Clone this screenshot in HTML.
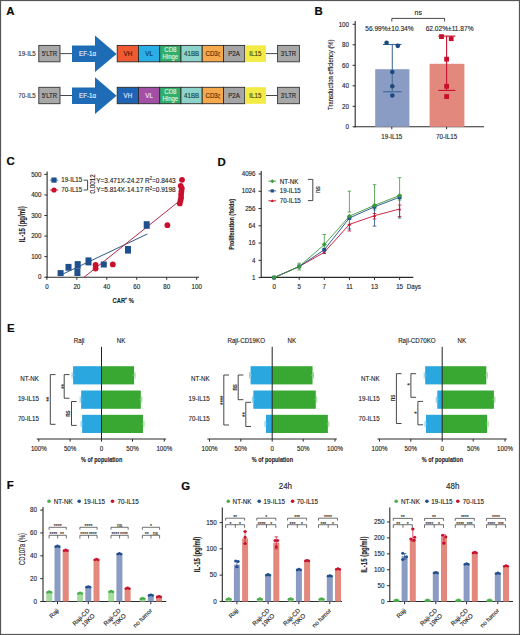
<!DOCTYPE html>
<html><head><meta charset="utf-8"><style>
html,body{margin:0;padding:0;background:#fff;}
body{width:520px;height:635px;overflow:hidden;}
svg{display:block;font-family:"Liberation Sans", sans-serif;}
</style></head><body>
<svg width="520" height="635" viewBox="0 0 520 635">
<rect x="0" y="0" width="520" height="635" fill="#fff"/>
<text x="6.3" y="14.60" font-size="11.4" font-weight="bold" fill="#0a0a0a" stroke="#0a0a0a" stroke-width="0.2">A</text>
<text x="314.4" y="15.10" font-size="11.4" font-weight="bold" fill="#0a0a0a" stroke="#0a0a0a" stroke-width="0.2">B</text>
<text x="6.4" y="165.10" font-size="11.4" font-weight="bold" fill="#0a0a0a" stroke="#0a0a0a" stroke-width="0.2">C</text>
<text x="217.6" y="165.50" font-size="11.4" font-weight="bold" fill="#0a0a0a" stroke="#0a0a0a" stroke-width="0.2">D</text>
<text x="6.9" y="331.90" font-size="11.4" font-weight="bold" fill="#0a0a0a" stroke="#0a0a0a" stroke-width="0.2">E</text>
<text x="6.8" y="489.10" font-size="11.4" font-weight="bold" fill="#0a0a0a" stroke="#0a0a0a" stroke-width="0.2">F</text>
<text x="181.3" y="489.70" font-size="11.4" font-weight="bold" fill="#0a0a0a" stroke="#0a0a0a" stroke-width="0.2">G</text>
<text x="0" y="0" font-size="6.2" text-anchor="end" fill="#333" stroke="#333" stroke-width="0.12" transform="translate(35.80 53.80) translate(0 2.23) scale(1 1.12)" >19-IL5</text>
<rect x="38.80" y="45.40" width="21.20" height="16.40" fill="#a8a8a8" stroke="#333" stroke-width="0.9" />
<text x="0" y="0" font-size="6.0" text-anchor="middle" fill="#262626" stroke="#262626" stroke-width="0.12" transform="translate(49.40 53.80) translate(0 2.16) scale(1 1.12)" >5'LTR</text>
<line x1="60.20" y1="53.60" x2="72.50" y2="53.60" stroke="#333" stroke-width="0.9" />
<polygon points="72,45.60 95,45.60 95,35.40 116.6,53.90 95,72.00 95,62.10 72,62.10" fill="#1f6cb6"/>
<text x="0" y="0" font-size="6.2" text-anchor="middle" fill="#e8f0ff" stroke="#e8f0ff" stroke-width="0.12" transform="translate(87.50 53.90) translate(0 2.23) scale(1 1.12)" >EF-1α</text>
<rect x="117.20" y="45.40" width="21.25" height="16.40" fill="#f05a30" stroke="#2a2a2a" stroke-width="0.9" />
<text x="0" y="0" font-size="6.2" text-anchor="middle" fill="#3a1208" stroke="#3a1208" stroke-width="0.12" transform="translate(127.83 53.80) translate(0 2.23) scale(1 1.12)" >VH</text>
<rect x="138.45" y="45.40" width="21.25" height="16.40" fill="#2aaee6" stroke="#2a2a2a" stroke-width="0.9" />
<text x="0" y="0" font-size="6.2" text-anchor="middle" fill="#06305e" stroke="#06305e" stroke-width="0.12" transform="translate(149.07 53.80) translate(0 2.23) scale(1 1.12)" >VL</text>
<rect x="159.70" y="45.40" width="21.25" height="16.40" fill="#2fae6c" stroke="#2a2a2a" stroke-width="0.9" />
<text x="0" y="0" font-size="6.1" text-anchor="middle" fill="#e0f6e4" stroke="#e0f6e4" stroke-width="0.12" transform="translate(170.32 49.60) translate(0 2.20) scale(1 1.12)" >CD8</text>
<text x="0" y="0" font-size="5.9" text-anchor="middle" fill="#e0f6e4" stroke="#e0f6e4" stroke-width="0.12" transform="translate(170.32 57.00) translate(0 2.12) scale(1 1.12)" >Hinge</text>
<rect x="180.95" y="45.40" width="21.25" height="16.40" fill="#8ed3c9" stroke="#2a2a2a" stroke-width="0.9" />
<text x="0" y="0" font-size="6.2" text-anchor="middle" fill="#16403c" stroke="#16403c" stroke-width="0.12" transform="translate(191.57 53.80) translate(0 2.23) scale(1 1.12)" >41BB</text>
<rect x="202.20" y="45.40" width="21.25" height="16.40" fill="#f6a84c" stroke="#2a2a2a" stroke-width="0.9" />
<text x="0" y="0" font-size="6.2" text-anchor="middle" fill="#4a2806" stroke="#4a2806" stroke-width="0.12" transform="translate(211.62 53.80) translate(0 2.23) scale(1 1.12)" >CD3</text>
<text x="0" y="0" font-size="4.6" text-anchor="middle" fill="#4a2806" stroke="#4a2806" stroke-width="0.12" transform="translate(219.12 54.80) translate(0 1.66) scale(1 1.12)" >ζ</text>
<rect x="223.45" y="45.40" width="21.25" height="16.40" fill="#a5a5a5" stroke="#2a2a2a" stroke-width="0.9" />
<text x="0" y="0" font-size="6.2" text-anchor="middle" fill="#262626" stroke="#262626" stroke-width="0.12" transform="translate(234.07 53.80) translate(0 2.23) scale(1 1.12)" >P2A</text>
<rect x="245.10" y="45.30" width="20.85" height="16.60" fill="#f3ea45" stroke="none" stroke-width="0" />
<text x="0" y="0" font-size="6.2" text-anchor="middle" fill="#403a08" stroke="#403a08" stroke-width="0.12" transform="translate(255.32 53.80) translate(0 2.23) scale(1 1.12)" >IL15</text>
<line x1="266.00" y1="53.60" x2="277.60" y2="53.60" stroke="#333" stroke-width="0.9" />
<rect x="277.60" y="45.40" width="21.80" height="16.40" fill="#a8a8a8" stroke="#333" stroke-width="0.9" />
<text x="0" y="0" font-size="6.0" text-anchor="middle" fill="#262626" stroke="#262626" stroke-width="0.12" transform="translate(288.50 53.80) translate(0 2.16) scale(1 1.12)" >3'LTR</text>
<text x="0" y="0" font-size="6.2" text-anchor="end" fill="#333" stroke="#333" stroke-width="0.12" transform="translate(35.80 95.70) translate(0 2.23) scale(1 1.12)" >70-IL5</text>
<rect x="38.80" y="87.30" width="21.20" height="16.40" fill="#a8a8a8" stroke="#333" stroke-width="0.9" />
<text x="0" y="0" font-size="6.0" text-anchor="middle" fill="#262626" stroke="#262626" stroke-width="0.12" transform="translate(49.40 95.70) translate(0 2.16) scale(1 1.12)" >5'LTR</text>
<line x1="60.20" y1="95.50" x2="72.50" y2="95.50" stroke="#333" stroke-width="0.9" />
<polygon points="72,87.50 95,87.50 95,77.30 116.6,95.80 95,113.90 95,104.00 72,104.00" fill="#1f6cb6"/>
<text x="0" y="0" font-size="6.2" text-anchor="middle" fill="#e8f0ff" stroke="#e8f0ff" stroke-width="0.12" transform="translate(87.50 95.80) translate(0 2.23) scale(1 1.12)" >EF-1α</text>
<rect x="117.20" y="87.30" width="21.25" height="16.40" fill="#1f63b4" stroke="#2a2a2a" stroke-width="0.9" />
<text x="0" y="0" font-size="6.2" text-anchor="middle" fill="#e8f0ff" stroke="#e8f0ff" stroke-width="0.12" transform="translate(127.83 95.70) translate(0 2.23) scale(1 1.12)" >VH</text>
<rect x="138.45" y="87.30" width="21.25" height="16.40" fill="#a34fa6" stroke="#2a2a2a" stroke-width="0.9" />
<text x="0" y="0" font-size="6.2" text-anchor="middle" fill="#f8e8fa" stroke="#f8e8fa" stroke-width="0.12" transform="translate(149.07 95.70) translate(0 2.23) scale(1 1.12)" >VL</text>
<rect x="159.70" y="87.30" width="21.25" height="16.40" fill="#2fae6c" stroke="#2a2a2a" stroke-width="0.9" />
<text x="0" y="0" font-size="6.1" text-anchor="middle" fill="#e0f6e4" stroke="#e0f6e4" stroke-width="0.12" transform="translate(170.32 91.50) translate(0 2.20) scale(1 1.12)" >CD8</text>
<text x="0" y="0" font-size="5.9" text-anchor="middle" fill="#e0f6e4" stroke="#e0f6e4" stroke-width="0.12" transform="translate(170.32 98.90) translate(0 2.12) scale(1 1.12)" >Hinge</text>
<rect x="180.95" y="87.30" width="21.25" height="16.40" fill="#8ed3c9" stroke="#2a2a2a" stroke-width="0.9" />
<text x="0" y="0" font-size="6.2" text-anchor="middle" fill="#16403c" stroke="#16403c" stroke-width="0.12" transform="translate(191.57 95.70) translate(0 2.23) scale(1 1.12)" >41BB</text>
<rect x="202.20" y="87.30" width="21.25" height="16.40" fill="#f6a84c" stroke="#2a2a2a" stroke-width="0.9" />
<text x="0" y="0" font-size="6.2" text-anchor="middle" fill="#4a2806" stroke="#4a2806" stroke-width="0.12" transform="translate(211.62 95.70) translate(0 2.23) scale(1 1.12)" >CD3</text>
<text x="0" y="0" font-size="4.6" text-anchor="middle" fill="#4a2806" stroke="#4a2806" stroke-width="0.12" transform="translate(219.12 96.70) translate(0 1.66) scale(1 1.12)" >ζ</text>
<rect x="223.45" y="87.30" width="21.25" height="16.40" fill="#a5a5a5" stroke="#2a2a2a" stroke-width="0.9" />
<text x="0" y="0" font-size="6.2" text-anchor="middle" fill="#262626" stroke="#262626" stroke-width="0.12" transform="translate(234.07 95.70) translate(0 2.23) scale(1 1.12)" >P2A</text>
<rect x="245.10" y="87.20" width="20.85" height="16.60" fill="#f3ea45" stroke="none" stroke-width="0" />
<text x="0" y="0" font-size="6.2" text-anchor="middle" fill="#403a08" stroke="#403a08" stroke-width="0.12" transform="translate(255.32 95.70) translate(0 2.23) scale(1 1.12)" >IL15</text>
<line x1="266.00" y1="95.50" x2="277.60" y2="95.50" stroke="#333" stroke-width="0.9" />
<rect x="277.60" y="87.30" width="21.80" height="16.40" fill="#a8a8a8" stroke="#333" stroke-width="0.9" />
<text x="0" y="0" font-size="6.0" text-anchor="middle" fill="#262626" stroke="#262626" stroke-width="0.12" transform="translate(288.50 95.70) translate(0 2.16) scale(1 1.12)" >3'LTR</text>
<line x1="355.20" y1="21.00" x2="355.20" y2="127.30" stroke="#2a2a2a" stroke-width="1.1" />
<line x1="354.60" y1="126.80" x2="484.00" y2="126.80" stroke="#2a2a2a" stroke-width="1.1" />
<line x1="352.60" y1="126.80" x2="355.20" y2="126.80" stroke="#2a2a2a" stroke-width="1" />
<text x="0" y="0" font-size="6.2" text-anchor="end" fill="#1e1e1e" stroke="#1e1e1e" stroke-width="0.12" transform="translate(349.00 126.80) translate(0 2.23) scale(1 1.12)" >0</text>
<line x1="352.60" y1="106.30" x2="355.20" y2="106.30" stroke="#2a2a2a" stroke-width="1" />
<text x="0" y="0" font-size="6.2" text-anchor="end" fill="#1e1e1e" stroke="#1e1e1e" stroke-width="0.12" transform="translate(349.00 106.30) translate(0 2.23) scale(1 1.12)" >20</text>
<line x1="352.60" y1="85.80" x2="355.20" y2="85.80" stroke="#2a2a2a" stroke-width="1" />
<text x="0" y="0" font-size="6.2" text-anchor="end" fill="#1e1e1e" stroke="#1e1e1e" stroke-width="0.12" transform="translate(349.00 85.80) translate(0 2.23) scale(1 1.12)" >40</text>
<line x1="352.60" y1="65.30" x2="355.20" y2="65.30" stroke="#2a2a2a" stroke-width="1" />
<text x="0" y="0" font-size="6.2" text-anchor="end" fill="#1e1e1e" stroke="#1e1e1e" stroke-width="0.12" transform="translate(349.00 65.30) translate(0 2.23) scale(1 1.12)" >60</text>
<line x1="352.60" y1="44.80" x2="355.20" y2="44.80" stroke="#2a2a2a" stroke-width="1" />
<text x="0" y="0" font-size="6.2" text-anchor="end" fill="#1e1e1e" stroke="#1e1e1e" stroke-width="0.12" transform="translate(349.00 44.80) translate(0 2.23) scale(1 1.12)" >80</text>
<line x1="352.60" y1="24.30" x2="355.20" y2="24.30" stroke="#2a2a2a" stroke-width="1" />
<text x="0" y="0" font-size="6.2" text-anchor="end" fill="#1e1e1e" stroke="#1e1e1e" stroke-width="0.12" transform="translate(349.00 24.30) translate(0 2.23) scale(1 1.12)" >100</text>
<text x="0" y="0" font-size="7.0" text-anchor="middle" fill="#1e1e1e" stroke="#1e1e1e" stroke-width="0.12" textLength="70.5" lengthAdjust="spacingAndGlyphs" transform="translate(330.00 74.70) rotate(-90) translate(0 2.52) scale(1 1.12)" >Transduction efficiency (%)</text>
<rect x="375.20" y="69.20" width="34.20" height="57.60" fill="#8a9bc4" stroke="none" stroke-width="0" />
<rect x="429.60" y="63.80" width="34.80" height="63.00" fill="#e3887c" stroke="none" stroke-width="0" />
<line x1="392.30" y1="44.49" x2="392.30" y2="91.75" stroke="#4a6f98" stroke-width="1.1" />
<line x1="383.00" y1="44.49" x2="401.50" y2="44.49" stroke="#36679a" stroke-width="1.1" />
<line x1="383.00" y1="91.75" x2="401.50" y2="91.75" stroke="#36679a" stroke-width="1.1" />
<circle cx="386.60" cy="42.75" r="2.30" fill="#1c4a7e" />
<circle cx="397.80" cy="45.83" r="2.30" fill="#1c4a7e" />
<circle cx="392.30" cy="71.96" r="2.30" fill="#1c4a7e" />
<circle cx="392.30" cy="86.31" r="2.30" fill="#1c4a7e" />
<circle cx="392.30" cy="95.54" r="2.30" fill="#1c4a7e" />
<line x1="446.60" y1="36.09" x2="446.60" y2="90.41" stroke="#c8102e" stroke-width="1.1" />
<line x1="438.30" y1="36.09" x2="455.40" y2="36.09" stroke="#c8102e" stroke-width="1.1" />
<line x1="438.30" y1="90.41" x2="455.40" y2="90.41" stroke="#c8102e" stroke-width="1.1" />
<rect x="439.10" y="34.20" width="4.80" height="4.80" fill="#c8102e" stroke="none" stroke-width="0" />
<rect x="448.80" y="36.25" width="4.80" height="4.80" fill="#c8102e" stroke="none" stroke-width="0" />
<rect x="444.20" y="56.75" width="4.80" height="4.80" fill="#c8102e" stroke="none" stroke-width="0" />
<rect x="444.20" y="83.91" width="4.80" height="4.80" fill="#c8102e" stroke="none" stroke-width="0" />
<rect x="444.20" y="94.16" width="4.80" height="4.80" fill="#c8102e" stroke="none" stroke-width="0" />
<path d="M391.8,21.5 L391.8,18.4 L444.6,18.4 L444.6,21.5" fill="none" stroke="#333" stroke-width="0.9" />
<text x="0" y="0" font-size="7.0" text-anchor="middle" fill="#1e1e1e" stroke="#1e1e1e" stroke-width="0.12" transform="translate(418.20 12.60) translate(0 2.52) scale(1 1.12)" >ns</text>
<text x="0" y="0" font-size="6.6" text-anchor="middle" fill="#1e1e1e" stroke="#1e1e1e" stroke-width="0.12" transform="translate(389.40 28.60) translate(0 2.38) scale(1 1.12)" >56.99%±10.34%</text>
<text x="0" y="0" font-size="6.6" text-anchor="middle" fill="#1e1e1e" stroke="#1e1e1e" stroke-width="0.12" transform="translate(449.60 28.40) translate(0 2.38) scale(1 1.12)" >62.02%±11.87%</text>
<text x="0" y="0" font-size="6.2" text-anchor="middle" fill="#1e1e1e" stroke="#1e1e1e" stroke-width="0.12" transform="translate(391.80 136.40) translate(0 2.23) scale(1 1.12)" >19-IL15</text>
<text x="0" y="0" font-size="6.2" text-anchor="middle" fill="#1e1e1e" stroke="#1e1e1e" stroke-width="0.12" transform="translate(446.60 136.40) translate(0 2.23) scale(1 1.12)" >70-IL15</text>
<line x1="391.80" y1="126.80" x2="391.80" y2="129.30" stroke="#2a2a2a" stroke-width="1" />
<line x1="446.60" y1="126.80" x2="446.60" y2="129.30" stroke="#2a2a2a" stroke-width="1" />
<line x1="47.10" y1="171.50" x2="47.10" y2="277.70" stroke="#2a2a2a" stroke-width="1.1" />
<line x1="46.60" y1="277.20" x2="199.00" y2="277.20" stroke="#2a2a2a" stroke-width="1.1" />
<line x1="44.40" y1="277.20" x2="47.10" y2="277.20" stroke="#2a2a2a" stroke-width="1" />
<text x="0" y="0" font-size="6.2" text-anchor="end" fill="#1e1e1e" stroke="#1e1e1e" stroke-width="0.12" transform="translate(41.50 277.20) translate(0 2.23) scale(1 1.12)" >0</text>
<line x1="44.40" y1="256.64" x2="47.10" y2="256.64" stroke="#2a2a2a" stroke-width="1" />
<text x="0" y="0" font-size="6.2" text-anchor="end" fill="#1e1e1e" stroke="#1e1e1e" stroke-width="0.12" transform="translate(41.50 256.64) translate(0 2.23) scale(1 1.12)" >100</text>
<line x1="44.40" y1="236.08" x2="47.10" y2="236.08" stroke="#2a2a2a" stroke-width="1" />
<text x="0" y="0" font-size="6.2" text-anchor="end" fill="#1e1e1e" stroke="#1e1e1e" stroke-width="0.12" transform="translate(41.50 236.08) translate(0 2.23) scale(1 1.12)" >200</text>
<line x1="44.40" y1="215.52" x2="47.10" y2="215.52" stroke="#2a2a2a" stroke-width="1" />
<text x="0" y="0" font-size="6.2" text-anchor="end" fill="#1e1e1e" stroke="#1e1e1e" stroke-width="0.12" transform="translate(41.50 215.52) translate(0 2.23) scale(1 1.12)" >300</text>
<line x1="44.40" y1="194.96" x2="47.10" y2="194.96" stroke="#2a2a2a" stroke-width="1" />
<text x="0" y="0" font-size="6.2" text-anchor="end" fill="#1e1e1e" stroke="#1e1e1e" stroke-width="0.12" transform="translate(41.50 194.96) translate(0 2.23) scale(1 1.12)" >400</text>
<line x1="44.40" y1="174.40" x2="47.10" y2="174.40" stroke="#2a2a2a" stroke-width="1" />
<text x="0" y="0" font-size="6.2" text-anchor="end" fill="#1e1e1e" stroke="#1e1e1e" stroke-width="0.12" transform="translate(41.50 174.40) translate(0 2.23) scale(1 1.12)" >500</text>
<line x1="46.90" y1="277.20" x2="46.90" y2="279.80" stroke="#2a2a2a" stroke-width="1" />
<text x="0" y="0" font-size="6.2" text-anchor="middle" fill="#1e1e1e" stroke="#1e1e1e" stroke-width="0.12" transform="translate(46.90 286.90) translate(0 2.23) scale(1 1.12)" >0</text>
<line x1="76.85" y1="277.20" x2="76.85" y2="279.80" stroke="#2a2a2a" stroke-width="1" />
<text x="0" y="0" font-size="6.2" text-anchor="middle" fill="#1e1e1e" stroke="#1e1e1e" stroke-width="0.12" transform="translate(76.85 286.90) translate(0 2.23) scale(1 1.12)" >20</text>
<line x1="106.80" y1="277.20" x2="106.80" y2="279.80" stroke="#2a2a2a" stroke-width="1" />
<text x="0" y="0" font-size="6.2" text-anchor="middle" fill="#1e1e1e" stroke="#1e1e1e" stroke-width="0.12" transform="translate(106.80 286.90) translate(0 2.23) scale(1 1.12)" >40</text>
<line x1="136.75" y1="277.20" x2="136.75" y2="279.80" stroke="#2a2a2a" stroke-width="1" />
<text x="0" y="0" font-size="6.2" text-anchor="middle" fill="#1e1e1e" stroke="#1e1e1e" stroke-width="0.12" transform="translate(136.75 286.90) translate(0 2.23) scale(1 1.12)" >60</text>
<line x1="166.70" y1="277.20" x2="166.70" y2="279.80" stroke="#2a2a2a" stroke-width="1" />
<text x="0" y="0" font-size="6.2" text-anchor="middle" fill="#1e1e1e" stroke="#1e1e1e" stroke-width="0.12" transform="translate(166.70 286.90) translate(0 2.23) scale(1 1.12)" >80</text>
<line x1="196.65" y1="277.20" x2="196.65" y2="279.80" stroke="#2a2a2a" stroke-width="1" />
<text x="0" y="0" font-size="6.2" text-anchor="middle" fill="#1e1e1e" stroke="#1e1e1e" stroke-width="0.12" transform="translate(196.65 286.90) translate(0 2.23) scale(1 1.12)" >100</text>
<text x="0" y="0" font-size="8" text-anchor="middle" fill="#1e1e1e" stroke="#1e1e1e" stroke-width="0.12" font-weight="bold" textLength="36" lengthAdjust="spacingAndGlyphs" transform="translate(22.40 224.20) rotate(-90) translate(0 2.88) scale(1 1.12)" >IL-15 (pg/ml)</text>
<text x="0" y="0" font-size="7.2" text-anchor="middle" fill="#1e1e1e" stroke="#1e1e1e" stroke-width="0.12" font-weight="bold" textLength="21.2" lengthAdjust="spacingAndGlyphs" transform="translate(123.20 300.60) translate(0 2.59) scale(1 1.12)" >CAR<tspan font-size="4.2" dy="-2.6">+</tspan><tspan dy="2.6"> %</tspan></text>
<line x1="60.40" y1="275.20" x2="147.30" y2="234.00" stroke="#26507e" stroke-width="0.95" />
<line x1="84.10" y1="277.20" x2="178.80" y2="201.50" stroke="#b01c3e" stroke-width="0.95" />
<rect x="57.60" y="270.10" width="6.00" height="6.00" fill="#1f4f8c" stroke="none" stroke-width="0" />
<rect x="65.50" y="263.90" width="6.00" height="6.80" fill="#1f4f8c" stroke="none" stroke-width="0" />
<rect x="74.70" y="261.10" width="6.00" height="7.60" fill="#1f4f8c" stroke="none" stroke-width="0" />
<rect x="74.40" y="268.60" width="6.00" height="7.40" fill="#1f4f8c" stroke="none" stroke-width="0" />
<rect x="85.50" y="257.40" width="6.00" height="8.00" fill="#1f4f8c" stroke="none" stroke-width="0" />
<rect x="100.80" y="261.50" width="6.00" height="6.00" fill="#1f4f8c" stroke="none" stroke-width="0" />
<rect x="125.00" y="246.00" width="6.00" height="7.60" fill="#1f4f8c" stroke="none" stroke-width="0" />
<rect x="143.70" y="221.20" width="6.00" height="7.60" fill="#1f4f8c" stroke="none" stroke-width="0" />
<circle cx="95.60" cy="265.00" r="2.90" fill="#c8102e" />
<circle cx="95.60" cy="268.50" r="2.90" fill="#c8102e" />
<circle cx="112.80" cy="264.40" r="2.90" fill="#c8102e" />
<circle cx="167.40" cy="225.20" r="2.90" fill="#c8102e" />
<circle cx="182.00" cy="179.80" r="2.90" fill="#c8102e" />
<circle cx="180.70" cy="185.80" r="2.90" fill="#c8102e" />
<circle cx="181.80" cy="188.50" r="2.90" fill="#c8102e" />
<circle cx="181.40" cy="191.40" r="2.90" fill="#c8102e" />
<circle cx="181.10" cy="194.60" r="2.90" fill="#c8102e" />
<circle cx="181.10" cy="197.70" r="2.90" fill="#c8102e" />
<circle cx="180.50" cy="200.50" r="2.90" fill="#c8102e" />
<circle cx="179.80" cy="203.40" r="2.90" fill="#c8102e" />
<rect x="51.40" y="177.50" width="5.20" height="5.20" fill="#1f4f8c" stroke="none" stroke-width="0" />
<line x1="49.80" y1="180.10" x2="58.20" y2="180.10" stroke="#1f4f8c" stroke-width="0.8" />
<circle cx="54.00" cy="190.00" r="2.60" fill="#c8102e" />
<line x1="49.80" y1="190.00" x2="58.20" y2="190.00" stroke="#c8102e" stroke-width="0.8" />
<text x="0" y="0" font-size="6.2" text-anchor="start" fill="#1e1e1e" stroke="#1e1e1e" stroke-width="0.12" transform="translate(61.20 180.20) translate(0 2.23) scale(1 1.12)" >19-IL15</text>
<text x="0" y="0" font-size="6.2" text-anchor="start" fill="#1e1e1e" stroke="#1e1e1e" stroke-width="0.12" transform="translate(61.20 190.10) translate(0 2.23) scale(1 1.12)" >70-IL15</text>
<path d="M83.6,180.2 L87.6,180.2 L87.6,190.0 L83.6,190.0" fill="none" stroke="#333" stroke-width="0.9" />
<text x="0" y="0" font-size="6.3" text-anchor="middle" fill="#1e1e1e" stroke="#1e1e1e" stroke-width="0.12" transform="translate(92.30 183.80) rotate(-90) translate(0 2.27) scale(1 1.12)" >0.0012</text>
<text x="0" y="0" font-size="6.4" text-anchor="start" fill="#1e1e1e" stroke="#1e1e1e" stroke-width="0.12" textLength="79.5" lengthAdjust="spacingAndGlyphs" transform="translate(96.20 180.20) translate(0 2.30) scale(1 1.12)" >Y=3.471X-24.27 R<tspan font-size="4" dy="-2.2">2</tspan><tspan dy="2.2">=0.8443</tspan></text>
<text x="0" y="0" font-size="6.4" text-anchor="start" fill="#1e1e1e" stroke="#1e1e1e" stroke-width="0.12" textLength="79.5" lengthAdjust="spacingAndGlyphs" transform="translate(96.20 190.00) translate(0 2.30) scale(1 1.12)" >Y=5.814X-14.17 R<tspan font-size="4" dy="-2.2">2</tspan><tspan dy="2.2">=0.9198</tspan></text>
<line x1="261.20" y1="171.00" x2="261.20" y2="277.90" stroke="#2a2a2a" stroke-width="1.1" />
<line x1="260.70" y1="277.40" x2="413.30" y2="277.40" stroke="#2a2a2a" stroke-width="1.1" />
<line x1="258.60" y1="277.60" x2="261.20" y2="277.60" stroke="#2a2a2a" stroke-width="1" />
<text x="0" y="0" font-size="6.2" text-anchor="end" fill="#1e1e1e" stroke="#1e1e1e" stroke-width="0.12" transform="translate(255.50 277.60) translate(0 2.23) scale(1 1.12)" >1</text>
<line x1="258.60" y1="260.33" x2="261.20" y2="260.33" stroke="#2a2a2a" stroke-width="1" />
<text x="0" y="0" font-size="6.2" text-anchor="end" fill="#1e1e1e" stroke="#1e1e1e" stroke-width="0.12" transform="translate(255.50 260.33) translate(0 2.23) scale(1 1.12)" >4</text>
<line x1="258.60" y1="243.06" x2="261.20" y2="243.06" stroke="#2a2a2a" stroke-width="1" />
<text x="0" y="0" font-size="6.2" text-anchor="end" fill="#1e1e1e" stroke="#1e1e1e" stroke-width="0.12" transform="translate(255.50 243.06) translate(0 2.23) scale(1 1.12)" >16</text>
<line x1="258.60" y1="225.79" x2="261.20" y2="225.79" stroke="#2a2a2a" stroke-width="1" />
<text x="0" y="0" font-size="6.2" text-anchor="end" fill="#1e1e1e" stroke="#1e1e1e" stroke-width="0.12" transform="translate(255.50 225.79) translate(0 2.23) scale(1 1.12)" >64</text>
<line x1="258.60" y1="208.52" x2="261.20" y2="208.52" stroke="#2a2a2a" stroke-width="1" />
<text x="0" y="0" font-size="6.2" text-anchor="end" fill="#1e1e1e" stroke="#1e1e1e" stroke-width="0.12" transform="translate(255.50 208.52) translate(0 2.23) scale(1 1.12)" >256</text>
<line x1="258.60" y1="191.25" x2="261.20" y2="191.25" stroke="#2a2a2a" stroke-width="1" />
<text x="0" y="0" font-size="6.2" text-anchor="end" fill="#1e1e1e" stroke="#1e1e1e" stroke-width="0.12" transform="translate(255.50 191.25) translate(0 2.23) scale(1 1.12)" >1024</text>
<line x1="258.60" y1="173.98" x2="261.20" y2="173.98" stroke="#2a2a2a" stroke-width="1" />
<text x="0" y="0" font-size="6.2" text-anchor="end" fill="#1e1e1e" stroke="#1e1e1e" stroke-width="0.12" transform="translate(255.50 173.98) translate(0 2.23) scale(1 1.12)" >4096</text>
<line x1="274.10" y1="277.40" x2="274.10" y2="279.90" stroke="#2a2a2a" stroke-width="1" />
<text x="0" y="0" font-size="6.2" text-anchor="middle" fill="#1e1e1e" stroke="#1e1e1e" stroke-width="0.12" transform="translate(274.10 287.10) translate(0 2.23) scale(1 1.12)" >0</text>
<line x1="299.20" y1="277.40" x2="299.20" y2="279.90" stroke="#2a2a2a" stroke-width="1" />
<text x="0" y="0" font-size="6.2" text-anchor="middle" fill="#1e1e1e" stroke="#1e1e1e" stroke-width="0.12" transform="translate(299.20 287.10) translate(0 2.23) scale(1 1.12)" >5</text>
<line x1="324.30" y1="277.40" x2="324.30" y2="279.90" stroke="#2a2a2a" stroke-width="1" />
<text x="0" y="0" font-size="6.2" text-anchor="middle" fill="#1e1e1e" stroke="#1e1e1e" stroke-width="0.12" transform="translate(324.30 287.10) translate(0 2.23) scale(1 1.12)" >7</text>
<line x1="349.40" y1="277.40" x2="349.40" y2="279.90" stroke="#2a2a2a" stroke-width="1" />
<text x="0" y="0" font-size="6.2" text-anchor="middle" fill="#1e1e1e" stroke="#1e1e1e" stroke-width="0.12" transform="translate(349.40 287.10) translate(0 2.23) scale(1 1.12)" >11</text>
<line x1="374.50" y1="277.40" x2="374.50" y2="279.90" stroke="#2a2a2a" stroke-width="1" />
<text x="0" y="0" font-size="6.2" text-anchor="middle" fill="#1e1e1e" stroke="#1e1e1e" stroke-width="0.12" transform="translate(374.50 287.10) translate(0 2.23) scale(1 1.12)" >13</text>
<line x1="399.60" y1="277.40" x2="399.60" y2="279.90" stroke="#2a2a2a" stroke-width="1" />
<text x="0" y="0" font-size="6.2" text-anchor="middle" fill="#1e1e1e" stroke="#1e1e1e" stroke-width="0.12" transform="translate(399.60 287.10) translate(0 2.23) scale(1 1.12)" >15</text>
<text x="0" y="0" font-size="6.2" text-anchor="middle" fill="#1e1e1e" stroke="#1e1e1e" stroke-width="0.12" transform="translate(413.80 287.10) translate(0 2.23) scale(1 1.12)" >Days</text>
<text x="0" y="0" font-size="7.0" text-anchor="middle" fill="#1e1e1e" stroke="#1e1e1e" stroke-width="0.12" font-weight="bold" textLength="51" lengthAdjust="spacingAndGlyphs" transform="translate(231.90 224.30) rotate(-90) translate(0 2.52) scale(1 1.12)" >Proliferation (folds)</text>
<line x1="299.20" y1="263.20" x2="299.20" y2="270.00" stroke="#3c9b3c" stroke-width="0.8" />
<line x1="297.40" y1="263.20" x2="301.00" y2="263.20" stroke="#3c9b3c" stroke-width="0.8" />
<line x1="297.40" y1="270.00" x2="301.00" y2="270.00" stroke="#3c9b3c" stroke-width="0.8" />
<line x1="324.30" y1="234.50" x2="324.30" y2="249.50" stroke="#3c9b3c" stroke-width="0.8" />
<line x1="322.50" y1="234.50" x2="326.10" y2="234.50" stroke="#3c9b3c" stroke-width="0.8" />
<line x1="322.50" y1="249.50" x2="326.10" y2="249.50" stroke="#3c9b3c" stroke-width="0.8" />
<line x1="349.40" y1="191.20" x2="349.40" y2="212.00" stroke="#3c9b3c" stroke-width="0.8" />
<line x1="347.60" y1="191.20" x2="351.20" y2="191.20" stroke="#3c9b3c" stroke-width="0.8" />
<line x1="347.60" y1="212.00" x2="351.20" y2="212.00" stroke="#3c9b3c" stroke-width="0.8" />
<line x1="374.50" y1="184.70" x2="374.50" y2="210.00" stroke="#3c9b3c" stroke-width="0.8" />
<line x1="372.70" y1="184.70" x2="376.30" y2="184.70" stroke="#3c9b3c" stroke-width="0.8" />
<line x1="372.70" y1="210.00" x2="376.30" y2="210.00" stroke="#3c9b3c" stroke-width="0.8" />
<line x1="399.60" y1="177.70" x2="399.60" y2="200.00" stroke="#3c9b3c" stroke-width="0.8" />
<line x1="397.80" y1="177.70" x2="401.40" y2="177.70" stroke="#3c9b3c" stroke-width="0.8" />
<line x1="397.80" y1="200.00" x2="401.40" y2="200.00" stroke="#3c9b3c" stroke-width="0.8" />
<line x1="324.30" y1="249.80" x2="324.30" y2="253.50" stroke="#1f4f8c" stroke-width="0.8" />
<line x1="322.50" y1="249.80" x2="326.10" y2="249.80" stroke="#1f4f8c" stroke-width="0.8" />
<line x1="322.50" y1="253.50" x2="326.10" y2="253.50" stroke="#1f4f8c" stroke-width="0.8" />
<line x1="349.40" y1="218.00" x2="349.40" y2="229.00" stroke="#1f4f8c" stroke-width="0.8" />
<line x1="347.60" y1="218.00" x2="351.20" y2="218.00" stroke="#1f4f8c" stroke-width="0.8" />
<line x1="347.60" y1="229.00" x2="351.20" y2="229.00" stroke="#1f4f8c" stroke-width="0.8" />
<line x1="374.50" y1="206.80" x2="374.50" y2="226.10" stroke="#1f4f8c" stroke-width="0.8" />
<line x1="372.70" y1="206.80" x2="376.30" y2="206.80" stroke="#1f4f8c" stroke-width="0.8" />
<line x1="372.70" y1="226.10" x2="376.30" y2="226.10" stroke="#1f4f8c" stroke-width="0.8" />
<line x1="399.60" y1="197.20" x2="399.60" y2="218.00" stroke="#1f4f8c" stroke-width="0.8" />
<line x1="397.80" y1="197.20" x2="401.40" y2="197.20" stroke="#1f4f8c" stroke-width="0.8" />
<line x1="397.80" y1="218.00" x2="401.40" y2="218.00" stroke="#1f4f8c" stroke-width="0.8" />
<line x1="349.40" y1="224.40" x2="349.40" y2="231.00" stroke="#c8102e" stroke-width="0.8" />
<line x1="347.60" y1="224.40" x2="351.20" y2="224.40" stroke="#c8102e" stroke-width="0.8" />
<line x1="347.60" y1="231.00" x2="351.20" y2="231.00" stroke="#c8102e" stroke-width="0.8" />
<line x1="374.50" y1="213.50" x2="374.50" y2="219.00" stroke="#c8102e" stroke-width="0.8" />
<line x1="372.70" y1="213.50" x2="376.30" y2="213.50" stroke="#c8102e" stroke-width="0.8" />
<line x1="372.70" y1="219.00" x2="376.30" y2="219.00" stroke="#c8102e" stroke-width="0.8" />
<line x1="399.60" y1="205.00" x2="399.60" y2="216.50" stroke="#c8102e" stroke-width="0.8" />
<line x1="397.80" y1="205.00" x2="401.40" y2="205.00" stroke="#c8102e" stroke-width="0.8" />
<line x1="397.80" y1="216.50" x2="401.40" y2="216.50" stroke="#c8102e" stroke-width="0.8" />
<polyline points="274.10,277.60 299.20,266.50 324.30,252.30 349.40,224.40 374.50,215.70 399.60,209.00" fill="none" stroke="#c8102e" stroke-width="0.9"/>
<polyline points="274.10,277.60 299.20,266.50 324.30,249.80 349.40,218.00 374.50,206.80 399.60,197.20" fill="none" stroke="#1f4f8c" stroke-width="0.9"/>
<polyline points="274.10,277.60 299.20,266.50 324.30,244.60 349.40,216.20 374.50,205.30 399.60,195.50" fill="none" stroke="#3c9b3c" stroke-width="0.9"/>
<polygon points="272.50,278.80 275.70,278.80 274.10,276.00" fill="#c8102e"/>
<rect x="272.20" y="275.70" width="3.80" height="3.80" fill="#1f4f8c" stroke="none" stroke-width="0" />
<polygon points="271.60,277.60 274.10,275.10 276.60,277.60 274.10,280.10" fill="#3c9b3c"/>
<polygon points="297.60,267.70 300.80,267.70 299.20,264.90" fill="#c8102e"/>
<rect x="297.30" y="264.60" width="3.80" height="3.80" fill="#1f4f8c" stroke="none" stroke-width="0" />
<polygon points="296.70,266.50 299.20,264.00 301.70,266.50 299.20,269.00" fill="#3c9b3c"/>
<polygon points="322.70,253.50 325.90,253.50 324.30,250.70" fill="#c8102e"/>
<rect x="322.40" y="247.90" width="3.80" height="3.80" fill="#1f4f8c" stroke="none" stroke-width="0" />
<polygon points="321.80,244.60 324.30,242.10 326.80,244.60 324.30,247.10" fill="#3c9b3c"/>
<polygon points="347.80,225.60 351.00,225.60 349.40,222.80" fill="#c8102e"/>
<rect x="347.50" y="216.10" width="3.80" height="3.80" fill="#1f4f8c" stroke="none" stroke-width="0" />
<polygon points="346.90,216.20 349.40,213.70 351.90,216.20 349.40,218.70" fill="#3c9b3c"/>
<polygon points="372.90,216.90 376.10,216.90 374.50,214.10" fill="#c8102e"/>
<rect x="372.60" y="204.90" width="3.80" height="3.80" fill="#1f4f8c" stroke="none" stroke-width="0" />
<polygon points="372.00,205.30 374.50,202.80 377.00,205.30 374.50,207.80" fill="#3c9b3c"/>
<polygon points="398.00,210.20 401.20,210.20 399.60,207.40" fill="#c8102e"/>
<rect x="397.70" y="195.30" width="3.80" height="3.80" fill="#1f4f8c" stroke="none" stroke-width="0" />
<polygon points="397.10,195.50 399.60,193.00 402.10,195.50 399.60,198.00" fill="#3c9b3c"/>
<line x1="268.40" y1="181.20" x2="276.20" y2="181.20" stroke="#3c9b3c" stroke-width="0.9" />
<polygon points="270.30,181.20 272.30,179.20 274.30,181.20 272.30,183.20" fill="#3c9b3c"/>
<text x="0" y="0" font-size="6.2" text-anchor="start" fill="#1e1e1e" stroke="#1e1e1e" stroke-width="0.12" transform="translate(279.80 181.30) translate(0 2.23) scale(1 1.12)" >NT-NK</text>
<line x1="268.40" y1="190.90" x2="276.20" y2="190.90" stroke="#1f4f8c" stroke-width="0.9" />
<rect x="270.70" y="189.30" width="3.20" height="3.20" fill="#1f4f8c" stroke="none" stroke-width="0" />
<text x="0" y="0" font-size="6.2" text-anchor="start" fill="#1e1e1e" stroke="#1e1e1e" stroke-width="0.12" transform="translate(279.80 191.00) translate(0 2.23) scale(1 1.12)" >19-IL15</text>
<line x1="268.40" y1="200.80" x2="276.20" y2="200.80" stroke="#c8102e" stroke-width="0.9" />
<polygon points="270.70,202.00 273.90,202.00 272.30,199.20" fill="#c8102e"/>
<text x="0" y="0" font-size="6.2" text-anchor="start" fill="#1e1e1e" stroke="#1e1e1e" stroke-width="0.12" transform="translate(279.80 200.90) translate(0 2.23) scale(1 1.12)" >70-IL15</text>
<path d="M307.9,179.4 L312.8,179.4 L312.8,200.6 L307.9,200.6" fill="none" stroke="#333" stroke-width="0.9" />
<text x="0" y="0" font-size="6.4" text-anchor="middle" fill="#1e1e1e" stroke="#1e1e1e" stroke-width="0.12" transform="translate(317.50 189.70) rotate(-90) translate(0 2.30) scale(1 1.12)" >ns</text>
<text x="0" y="0" font-size="6.2" text-anchor="middle" fill="#1e1e1e" stroke="#1e1e1e" stroke-width="0.12" transform="translate(79.10 340.50) translate(0 2.23) scale(1 1.12)" >Raji</text>
<text x="0" y="0" font-size="6.2" text-anchor="middle" fill="#1e1e1e" stroke="#1e1e1e" stroke-width="0.12" transform="translate(121.10 340.50) translate(0 2.23) scale(1 1.12)" >NK</text>
<rect x="73.08" y="366.20" width="28.42" height="18.20" fill="#2ba7e0" stroke="none" stroke-width="0" />
<rect x="101.50" y="366.20" width="32.58" height="18.20" fill="#38a833" stroke="none" stroke-width="0" />
<line x1="72.08" y1="372.10" x2="72.08" y2="378.50" stroke="#6cc4ec" stroke-width="0.8" />
<line x1="72.08" y1="375.30" x2="74.58" y2="375.30" stroke="#6cc4ec" stroke-width="0.8" />
<line x1="135.08" y1="372.10" x2="135.08" y2="378.50" stroke="#7ccf7c" stroke-width="0.8" />
<line x1="132.58" y1="375.30" x2="135.08" y2="375.30" stroke="#7ccf7c" stroke-width="0.8" />
<text x="0" y="0" font-size="6.2" text-anchor="end" fill="#1e1e1e" stroke="#1e1e1e" stroke-width="0.12" transform="translate(38.90 378.50) translate(0 2.23) scale(1 1.12)" >NT-NK</text>
<rect x="81.15" y="390.50" width="20.35" height="18.30" fill="#2ba7e0" stroke="none" stroke-width="0" />
<rect x="101.50" y="390.50" width="39.30" height="18.30" fill="#38a833" stroke="none" stroke-width="0" />
<line x1="80.15" y1="396.45" x2="80.15" y2="402.85" stroke="#6cc4ec" stroke-width="0.8" />
<line x1="80.15" y1="399.65" x2="82.65" y2="399.65" stroke="#6cc4ec" stroke-width="0.8" />
<line x1="141.80" y1="396.45" x2="141.80" y2="402.85" stroke="#7ccf7c" stroke-width="0.8" />
<line x1="139.30" y1="399.65" x2="141.80" y2="399.65" stroke="#7ccf7c" stroke-width="0.8" />
<text x="0" y="0" font-size="6.2" text-anchor="end" fill="#1e1e1e" stroke="#1e1e1e" stroke-width="0.12" transform="translate(38.90 398.30) translate(0 2.23) scale(1 1.12)" >19-IL15</text>
<rect x="82.11" y="414.80" width="19.39" height="18.20" fill="#2ba7e0" stroke="none" stroke-width="0" />
<rect x="101.50" y="414.80" width="41.47" height="18.20" fill="#38a833" stroke="none" stroke-width="0" />
<line x1="81.11" y1="420.70" x2="81.11" y2="427.10" stroke="#6cc4ec" stroke-width="0.8" />
<line x1="81.11" y1="423.90" x2="83.61" y2="423.90" stroke="#6cc4ec" stroke-width="0.8" />
<line x1="143.97" y1="420.70" x2="143.97" y2="427.10" stroke="#7ccf7c" stroke-width="0.8" />
<line x1="141.47" y1="423.90" x2="143.97" y2="423.90" stroke="#7ccf7c" stroke-width="0.8" />
<text x="0" y="0" font-size="6.2" text-anchor="end" fill="#1e1e1e" stroke="#1e1e1e" stroke-width="0.12" transform="translate(38.90 419.00) translate(0 2.23) scale(1 1.12)" >70-IL15</text>
<line x1="101.50" y1="346.80" x2="101.50" y2="439.20" stroke="#222" stroke-width="1.0" />
<line x1="36.70" y1="439.00" x2="166.10" y2="439.00" stroke="#2a2a2a" stroke-width="1.1" />
<line x1="38.80" y1="439.00" x2="38.80" y2="441.60" stroke="#2a2a2a" stroke-width="1" />
<text x="0" y="0" font-size="6.2" text-anchor="middle" fill="#1e1e1e" stroke="#1e1e1e" stroke-width="0.12" transform="translate(38.80 448.30) translate(0 2.23) scale(1 1.12)" >100%</text>
<line x1="70.10" y1="439.00" x2="70.10" y2="441.60" stroke="#2a2a2a" stroke-width="1" />
<text x="0" y="0" font-size="6.2" text-anchor="middle" fill="#1e1e1e" stroke="#1e1e1e" stroke-width="0.12" transform="translate(70.10 448.30) translate(0 2.23) scale(1 1.12)" >50%</text>
<line x1="101.50" y1="439.00" x2="101.50" y2="441.60" stroke="#2a2a2a" stroke-width="1" />
<text x="0" y="0" font-size="6.2" text-anchor="middle" fill="#1e1e1e" stroke="#1e1e1e" stroke-width="0.12" transform="translate(101.50 448.30) translate(0 2.23) scale(1 1.12)" >0</text>
<line x1="132.50" y1="439.00" x2="132.50" y2="441.60" stroke="#2a2a2a" stroke-width="1" />
<text x="0" y="0" font-size="6.2" text-anchor="middle" fill="#1e1e1e" stroke="#1e1e1e" stroke-width="0.12" transform="translate(132.50 448.30) translate(0 2.23) scale(1 1.12)" >50%</text>
<line x1="164.30" y1="439.00" x2="164.30" y2="441.60" stroke="#2a2a2a" stroke-width="1" />
<text x="0" y="0" font-size="6.2" text-anchor="middle" fill="#1e1e1e" stroke="#1e1e1e" stroke-width="0.12" transform="translate(164.30 448.30) translate(0 2.23) scale(1 1.12)" >100%</text>
<text x="0" y="0" font-size="7.2" text-anchor="middle" fill="#1e1e1e" stroke="#1e1e1e" stroke-width="0.12" font-weight="bold" textLength="41.3" lengthAdjust="spacingAndGlyphs" transform="translate(101.70 459.30) translate(0 2.59) scale(1 1.12)" >% of population</text>
<path d="M55.50,374.60 L50.30,374.60 L50.30,424.30 L55.50,424.30" fill="none" stroke="#333" stroke-width="0.9" />
<text x="0" y="0" font-size="5.9" text-anchor="middle" fill="#1e1e1e" stroke="#1e1e1e" stroke-width="0.12" transform="translate(47.10 399.20) rotate(-90) translate(0 3.66) scale(1 1.12)" >**</text>
<path d="M69.40,374.60 L64.20,374.60 L64.20,398.20 L69.40,398.20" fill="none" stroke="#333" stroke-width="0.9" />
<text x="0" y="0" font-size="5.9" text-anchor="middle" fill="#1e1e1e" stroke="#1e1e1e" stroke-width="0.12" transform="translate(61.90 386.50) rotate(-90) translate(0 3.66) scale(1 1.12)" >**</text>
<path d="M76.70,401.50 L71.50,401.50 L71.50,425.40 L76.70,425.40" fill="none" stroke="#333" stroke-width="0.9" />
<text x="0" y="0" font-size="5.9" text-anchor="middle" fill="#1e1e1e" stroke="#1e1e1e" stroke-width="0.12" transform="translate(67.90 413.60) rotate(-90) translate(0 2.12) scale(1 1.12)" >ns</text>
<text x="0" y="0" font-size="6.2" text-anchor="middle" fill="#1e1e1e" stroke="#1e1e1e" stroke-width="0.12" transform="translate(246.20 340.50) translate(0 2.23) scale(1 1.12)" >Raji-CD19KO</text>
<text x="0" y="0" font-size="6.2" text-anchor="middle" fill="#1e1e1e" stroke="#1e1e1e" stroke-width="0.12" transform="translate(291.80 340.50) translate(0 2.23) scale(1 1.12)" >NK</text>
<rect x="250.57" y="366.20" width="21.63" height="18.20" fill="#2ba7e0" stroke="none" stroke-width="0" />
<rect x="272.20" y="366.20" width="40.32" height="18.20" fill="#38a833" stroke="none" stroke-width="0" />
<line x1="249.57" y1="372.10" x2="249.57" y2="378.50" stroke="#6cc4ec" stroke-width="0.8" />
<line x1="249.57" y1="375.30" x2="252.07" y2="375.30" stroke="#6cc4ec" stroke-width="0.8" />
<line x1="313.52" y1="372.10" x2="313.52" y2="378.50" stroke="#7ccf7c" stroke-width="0.8" />
<line x1="311.02" y1="375.30" x2="313.52" y2="375.30" stroke="#7ccf7c" stroke-width="0.8" />
<text x="0" y="0" font-size="6.2" text-anchor="end" fill="#1e1e1e" stroke="#1e1e1e" stroke-width="0.12" transform="translate(209.60 378.50) translate(0 2.23) scale(1 1.12)" >NT-NK</text>
<rect x="253.32" y="390.50" width="18.88" height="18.30" fill="#2ba7e0" stroke="none" stroke-width="0" />
<rect x="272.20" y="390.50" width="43.58" height="18.30" fill="#38a833" stroke="none" stroke-width="0" />
<line x1="252.32" y1="396.45" x2="252.32" y2="402.85" stroke="#6cc4ec" stroke-width="0.8" />
<line x1="252.32" y1="399.65" x2="254.82" y2="399.65" stroke="#6cc4ec" stroke-width="0.8" />
<line x1="316.78" y1="396.45" x2="316.78" y2="402.85" stroke="#7ccf7c" stroke-width="0.8" />
<line x1="314.28" y1="399.65" x2="316.78" y2="399.65" stroke="#7ccf7c" stroke-width="0.8" />
<text x="0" y="0" font-size="6.2" text-anchor="end" fill="#1e1e1e" stroke="#1e1e1e" stroke-width="0.12" transform="translate(209.60 398.30) translate(0 2.23) scale(1 1.12)" >19-IL15</text>
<rect x="265.99" y="414.80" width="6.21" height="18.20" fill="#2ba7e0" stroke="none" stroke-width="0" />
<rect x="272.20" y="414.80" width="55.68" height="18.20" fill="#38a833" stroke="none" stroke-width="0" />
<line x1="264.99" y1="420.70" x2="264.99" y2="427.10" stroke="#6cc4ec" stroke-width="0.8" />
<line x1="264.99" y1="423.90" x2="267.49" y2="423.90" stroke="#6cc4ec" stroke-width="0.8" />
<line x1="328.88" y1="420.70" x2="328.88" y2="427.10" stroke="#7ccf7c" stroke-width="0.8" />
<line x1="326.38" y1="423.90" x2="328.88" y2="423.90" stroke="#7ccf7c" stroke-width="0.8" />
<text x="0" y="0" font-size="6.2" text-anchor="end" fill="#1e1e1e" stroke="#1e1e1e" stroke-width="0.12" transform="translate(209.60 419.00) translate(0 2.23) scale(1 1.12)" >70-IL15</text>
<line x1="272.20" y1="346.80" x2="272.20" y2="439.20" stroke="#222" stroke-width="1.0" />
<line x1="207.40" y1="439.00" x2="336.80" y2="439.00" stroke="#2a2a2a" stroke-width="1.1" />
<line x1="209.50" y1="439.00" x2="209.50" y2="441.60" stroke="#2a2a2a" stroke-width="1" />
<text x="0" y="0" font-size="6.2" text-anchor="middle" fill="#1e1e1e" stroke="#1e1e1e" stroke-width="0.12" transform="translate(209.50 448.30) translate(0 2.23) scale(1 1.12)" >100%</text>
<line x1="240.80" y1="439.00" x2="240.80" y2="441.60" stroke="#2a2a2a" stroke-width="1" />
<text x="0" y="0" font-size="6.2" text-anchor="middle" fill="#1e1e1e" stroke="#1e1e1e" stroke-width="0.12" transform="translate(240.80 448.30) translate(0 2.23) scale(1 1.12)" >50%</text>
<line x1="272.20" y1="439.00" x2="272.20" y2="441.60" stroke="#2a2a2a" stroke-width="1" />
<text x="0" y="0" font-size="6.2" text-anchor="middle" fill="#1e1e1e" stroke="#1e1e1e" stroke-width="0.12" transform="translate(272.20 448.30) translate(0 2.23) scale(1 1.12)" >0</text>
<line x1="303.20" y1="439.00" x2="303.20" y2="441.60" stroke="#2a2a2a" stroke-width="1" />
<text x="0" y="0" font-size="6.2" text-anchor="middle" fill="#1e1e1e" stroke="#1e1e1e" stroke-width="0.12" transform="translate(303.20 448.30) translate(0 2.23) scale(1 1.12)" >50%</text>
<line x1="335.00" y1="439.00" x2="335.00" y2="441.60" stroke="#2a2a2a" stroke-width="1" />
<text x="0" y="0" font-size="6.2" text-anchor="middle" fill="#1e1e1e" stroke="#1e1e1e" stroke-width="0.12" transform="translate(335.00 448.30) translate(0 2.23) scale(1 1.12)" >100%</text>
<text x="0" y="0" font-size="7.2" text-anchor="middle" fill="#1e1e1e" stroke="#1e1e1e" stroke-width="0.12" font-weight="bold" textLength="41.3" lengthAdjust="spacingAndGlyphs" transform="translate(272.40 459.30) translate(0 2.59) scale(1 1.12)" >% of population</text>
<path d="M229.00,375.00 L223.80,375.00 L223.80,425.00 L229.00,425.00" fill="none" stroke="#333" stroke-width="0.9" />
<text x="0" y="0" font-size="5.9" text-anchor="middle" fill="#1e1e1e" stroke="#1e1e1e" stroke-width="0.12" transform="translate(220.90 400.30) rotate(-90) translate(0 3.66) scale(1 1.12)" >****</text>
<path d="M243.40,375.00 L238.20,375.00 L238.20,399.70 L243.40,399.70" fill="none" stroke="#333" stroke-width="0.9" />
<text x="0" y="0" font-size="5.9" text-anchor="middle" fill="#1e1e1e" stroke="#1e1e1e" stroke-width="0.12" transform="translate(234.70 387.40) rotate(-90) translate(0 2.12) scale(1 1.12)" >ns</text>
<path d="M251.00,402.30 L245.80,402.30 L245.80,426.50 L251.00,426.50" fill="none" stroke="#333" stroke-width="0.9" />
<text x="0" y="0" font-size="5.9" text-anchor="middle" fill="#1e1e1e" stroke="#1e1e1e" stroke-width="0.12" transform="translate(242.90 414.60) rotate(-90) translate(0 3.66) scale(1 1.12)" >**</text>
<text x="0" y="0" font-size="6.2" text-anchor="middle" fill="#1e1e1e" stroke="#1e1e1e" stroke-width="0.12" transform="translate(416.90 340.50) translate(0 2.23) scale(1 1.12)" >Raji-CD70KO</text>
<text x="0" y="0" font-size="6.2" text-anchor="middle" fill="#1e1e1e" stroke="#1e1e1e" stroke-width="0.12" transform="translate(461.80 340.50) translate(0 2.23) scale(1 1.12)" >NK</text>
<rect x="425.18" y="366.20" width="17.02" height="18.20" fill="#2ba7e0" stroke="none" stroke-width="0" />
<rect x="442.20" y="366.20" width="44.10" height="18.20" fill="#38a833" stroke="none" stroke-width="0" />
<line x1="424.18" y1="372.10" x2="424.18" y2="378.50" stroke="#6cc4ec" stroke-width="0.8" />
<line x1="424.18" y1="375.30" x2="426.68" y2="375.30" stroke="#6cc4ec" stroke-width="0.8" />
<line x1="487.30" y1="372.10" x2="487.30" y2="378.50" stroke="#7ccf7c" stroke-width="0.8" />
<line x1="484.80" y1="375.30" x2="487.30" y2="375.30" stroke="#7ccf7c" stroke-width="0.8" />
<text x="0" y="0" font-size="6.2" text-anchor="end" fill="#1e1e1e" stroke="#1e1e1e" stroke-width="0.12" transform="translate(379.60 378.50) translate(0 2.23) scale(1 1.12)" >NT-NK</text>
<rect x="437.27" y="390.50" width="4.93" height="18.30" fill="#2ba7e0" stroke="none" stroke-width="0" />
<rect x="442.20" y="390.50" width="51.71" height="18.30" fill="#38a833" stroke="none" stroke-width="0" />
<line x1="436.27" y1="396.45" x2="436.27" y2="402.85" stroke="#6cc4ec" stroke-width="0.8" />
<line x1="436.27" y1="399.65" x2="438.77" y2="399.65" stroke="#6cc4ec" stroke-width="0.8" />
<line x1="494.91" y1="396.45" x2="494.91" y2="402.85" stroke="#7ccf7c" stroke-width="0.8" />
<line x1="492.41" y1="399.65" x2="494.91" y2="399.65" stroke="#7ccf7c" stroke-width="0.8" />
<text x="0" y="0" font-size="6.2" text-anchor="end" fill="#1e1e1e" stroke="#1e1e1e" stroke-width="0.12" transform="translate(379.60 398.30) translate(0 2.23) scale(1 1.12)" >19-IL15</text>
<rect x="426.01" y="414.80" width="16.19" height="18.20" fill="#2ba7e0" stroke="none" stroke-width="0" />
<rect x="442.20" y="414.80" width="44.93" height="18.20" fill="#38a833" stroke="none" stroke-width="0" />
<line x1="425.01" y1="420.70" x2="425.01" y2="427.10" stroke="#6cc4ec" stroke-width="0.8" />
<line x1="425.01" y1="423.90" x2="427.51" y2="423.90" stroke="#6cc4ec" stroke-width="0.8" />
<line x1="488.13" y1="420.70" x2="488.13" y2="427.10" stroke="#7ccf7c" stroke-width="0.8" />
<line x1="485.63" y1="423.90" x2="488.13" y2="423.90" stroke="#7ccf7c" stroke-width="0.8" />
<text x="0" y="0" font-size="6.2" text-anchor="end" fill="#1e1e1e" stroke="#1e1e1e" stroke-width="0.12" transform="translate(379.60 419.00) translate(0 2.23) scale(1 1.12)" >70-IL15</text>
<line x1="442.20" y1="346.80" x2="442.20" y2="439.20" stroke="#222" stroke-width="1.0" />
<line x1="377.40" y1="439.00" x2="506.80" y2="439.00" stroke="#2a2a2a" stroke-width="1.1" />
<line x1="379.50" y1="439.00" x2="379.50" y2="441.60" stroke="#2a2a2a" stroke-width="1" />
<text x="0" y="0" font-size="6.2" text-anchor="middle" fill="#1e1e1e" stroke="#1e1e1e" stroke-width="0.12" transform="translate(379.50 448.30) translate(0 2.23) scale(1 1.12)" >100%</text>
<line x1="410.80" y1="439.00" x2="410.80" y2="441.60" stroke="#2a2a2a" stroke-width="1" />
<text x="0" y="0" font-size="6.2" text-anchor="middle" fill="#1e1e1e" stroke="#1e1e1e" stroke-width="0.12" transform="translate(410.80 448.30) translate(0 2.23) scale(1 1.12)" >50%</text>
<line x1="442.20" y1="439.00" x2="442.20" y2="441.60" stroke="#2a2a2a" stroke-width="1" />
<text x="0" y="0" font-size="6.2" text-anchor="middle" fill="#1e1e1e" stroke="#1e1e1e" stroke-width="0.12" transform="translate(442.20 448.30) translate(0 2.23) scale(1 1.12)" >0</text>
<line x1="473.20" y1="439.00" x2="473.20" y2="441.60" stroke="#2a2a2a" stroke-width="1" />
<text x="0" y="0" font-size="6.2" text-anchor="middle" fill="#1e1e1e" stroke="#1e1e1e" stroke-width="0.12" transform="translate(473.20 448.30) translate(0 2.23) scale(1 1.12)" >50%</text>
<line x1="505.00" y1="439.00" x2="505.00" y2="441.60" stroke="#2a2a2a" stroke-width="1" />
<text x="0" y="0" font-size="6.2" text-anchor="middle" fill="#1e1e1e" stroke="#1e1e1e" stroke-width="0.12" transform="translate(505.00 448.30) translate(0 2.23) scale(1 1.12)" >100%</text>
<text x="0" y="0" font-size="7.2" text-anchor="middle" fill="#1e1e1e" stroke="#1e1e1e" stroke-width="0.12" font-weight="bold" textLength="41.3" lengthAdjust="spacingAndGlyphs" transform="translate(442.40 459.30) translate(0 2.59) scale(1 1.12)" >% of population</text>
<path d="M401.60,373.70 L396.40,373.70 L396.40,423.50 L401.60,423.50" fill="none" stroke="#333" stroke-width="0.9" />
<text x="0" y="0" font-size="5.9" text-anchor="middle" fill="#1e1e1e" stroke="#1e1e1e" stroke-width="0.12" transform="translate(393.10 397.90) rotate(-90) translate(0 2.12) scale(1 1.12)" >ns</text>
<path d="M416.10,373.70 L410.90,373.70 L410.90,397.30 L416.10,397.30" fill="none" stroke="#333" stroke-width="0.9" />
<text x="0" y="0" font-size="5.9" text-anchor="middle" fill="#1e1e1e" stroke="#1e1e1e" stroke-width="0.12" transform="translate(407.90 384.40) rotate(-90) translate(0 3.66) scale(1 1.12)" >*</text>
<path d="M423.10,401.40 L417.90,401.40 L417.90,424.80 L423.10,424.80" fill="none" stroke="#333" stroke-width="0.9" />
<text x="0" y="0" font-size="5.9" text-anchor="middle" fill="#1e1e1e" stroke="#1e1e1e" stroke-width="0.12" transform="translate(414.90 412.70) rotate(-90) translate(0 3.66) scale(1 1.12)" >*</text>
<line x1="43.00" y1="507.00" x2="43.00" y2="601.90" stroke="#2a2a2a" stroke-width="1.1" />
<line x1="42.50" y1="601.50" x2="166.20" y2="601.50" stroke="#2a2a2a" stroke-width="1.1" />
<line x1="40.30" y1="601.50" x2="43.00" y2="601.50" stroke="#2a2a2a" stroke-width="1" />
<text x="0" y="0" font-size="6.3" text-anchor="end" fill="#1e1e1e" stroke="#1e1e1e" stroke-width="0.12" transform="translate(37.00 601.50) translate(0 2.27) scale(1 1.12)" >0</text>
<line x1="40.30" y1="578.65" x2="43.00" y2="578.65" stroke="#2a2a2a" stroke-width="1" />
<text x="0" y="0" font-size="6.3" text-anchor="end" fill="#1e1e1e" stroke="#1e1e1e" stroke-width="0.12" transform="translate(37.00 578.65) translate(0 2.27) scale(1 1.12)" >20</text>
<line x1="40.30" y1="555.80" x2="43.00" y2="555.80" stroke="#2a2a2a" stroke-width="1" />
<text x="0" y="0" font-size="6.3" text-anchor="end" fill="#1e1e1e" stroke="#1e1e1e" stroke-width="0.12" transform="translate(37.00 555.80) translate(0 2.27) scale(1 1.12)" >40</text>
<line x1="40.30" y1="532.95" x2="43.00" y2="532.95" stroke="#2a2a2a" stroke-width="1" />
<text x="0" y="0" font-size="6.3" text-anchor="end" fill="#1e1e1e" stroke="#1e1e1e" stroke-width="0.12" transform="translate(37.00 532.95) translate(0 2.27) scale(1 1.12)" >60</text>
<line x1="40.30" y1="510.10" x2="43.00" y2="510.10" stroke="#2a2a2a" stroke-width="1" />
<text x="0" y="0" font-size="6.3" text-anchor="end" fill="#1e1e1e" stroke="#1e1e1e" stroke-width="0.12" transform="translate(37.00 510.10) translate(0 2.27) scale(1 1.12)" >80</text>
<rect x="46.30" y="592.36" width="6.00" height="9.14" fill="#a6dba0" stroke="none" stroke-width="0" />
<line x1="47.10" y1="592.36" x2="51.50" y2="592.36" stroke="#4aae4a" stroke-width="0.9" />
<circle cx="47.60" cy="592.36" r="1.35" fill="#4aae4a" />
<circle cx="49.30" cy="591.66" r="1.35" fill="#4aae4a" />
<circle cx="51.00" cy="592.36" r="1.35" fill="#4aae4a" />
<rect x="54.50" y="546.66" width="6.00" height="54.84" fill="#8a9bc4" stroke="none" stroke-width="0" />
<line x1="55.30" y1="546.66" x2="59.70" y2="546.66" stroke="#1f4f8c" stroke-width="0.9" />
<circle cx="55.80" cy="546.66" r="1.35" fill="#1f4f8c" />
<circle cx="57.50" cy="545.96" r="1.35" fill="#1f4f8c" />
<circle cx="59.20" cy="546.66" r="1.35" fill="#1f4f8c" />
<rect x="62.70" y="550.66" width="6.00" height="50.84" fill="#e3887c" stroke="none" stroke-width="0" />
<line x1="63.50" y1="550.66" x2="67.90" y2="550.66" stroke="#c8102e" stroke-width="0.9" />
<circle cx="64.00" cy="550.66" r="1.35" fill="#c8102e" />
<circle cx="65.70" cy="549.96" r="1.35" fill="#c8102e" />
<circle cx="67.40" cy="550.66" r="1.35" fill="#c8102e" />
<line x1="57.50" y1="601.50" x2="57.50" y2="604.20" stroke="#2a2a2a" stroke-width="1" />
<rect x="77.10" y="593.50" width="6.00" height="8.00" fill="#a6dba0" stroke="none" stroke-width="0" />
<line x1="77.90" y1="593.50" x2="82.30" y2="593.50" stroke="#4aae4a" stroke-width="0.9" />
<circle cx="78.40" cy="593.50" r="1.35" fill="#4aae4a" />
<circle cx="80.10" cy="592.80" r="1.35" fill="#4aae4a" />
<circle cx="81.80" cy="593.50" r="1.35" fill="#4aae4a" />
<rect x="85.30" y="587.22" width="6.00" height="14.28" fill="#8a9bc4" stroke="none" stroke-width="0" />
<line x1="86.10" y1="587.22" x2="90.50" y2="587.22" stroke="#1f4f8c" stroke-width="0.9" />
<circle cx="86.60" cy="587.22" r="1.35" fill="#1f4f8c" />
<circle cx="88.30" cy="586.52" r="1.35" fill="#1f4f8c" />
<circle cx="90.00" cy="587.22" r="1.35" fill="#1f4f8c" />
<rect x="93.50" y="559.80" width="6.00" height="41.70" fill="#e3887c" stroke="none" stroke-width="0" />
<line x1="94.30" y1="559.80" x2="98.70" y2="559.80" stroke="#c8102e" stroke-width="0.9" />
<circle cx="94.80" cy="559.80" r="1.35" fill="#c8102e" />
<circle cx="96.50" cy="559.10" r="1.35" fill="#c8102e" />
<circle cx="98.20" cy="559.80" r="1.35" fill="#c8102e" />
<line x1="88.30" y1="601.50" x2="88.30" y2="604.20" stroke="#2a2a2a" stroke-width="1" />
<rect x="108.20" y="591.79" width="6.00" height="9.71" fill="#a6dba0" stroke="none" stroke-width="0" />
<line x1="109.00" y1="591.79" x2="113.40" y2="591.79" stroke="#4aae4a" stroke-width="0.9" />
<circle cx="109.50" cy="591.79" r="1.35" fill="#4aae4a" />
<circle cx="111.20" cy="591.09" r="1.35" fill="#4aae4a" />
<circle cx="112.90" cy="591.79" r="1.35" fill="#4aae4a" />
<rect x="116.40" y="554.09" width="6.00" height="47.41" fill="#8a9bc4" stroke="none" stroke-width="0" />
<line x1="117.20" y1="554.09" x2="121.60" y2="554.09" stroke="#1f4f8c" stroke-width="0.9" />
<circle cx="117.70" cy="554.09" r="1.35" fill="#1f4f8c" />
<circle cx="119.40" cy="553.39" r="1.35" fill="#1f4f8c" />
<circle cx="121.10" cy="554.09" r="1.35" fill="#1f4f8c" />
<rect x="124.60" y="588.59" width="6.00" height="12.91" fill="#e3887c" stroke="none" stroke-width="0" />
<line x1="125.40" y1="588.59" x2="129.80" y2="588.59" stroke="#c8102e" stroke-width="0.9" />
<circle cx="125.90" cy="588.59" r="1.35" fill="#c8102e" />
<circle cx="127.60" cy="587.89" r="1.35" fill="#c8102e" />
<circle cx="129.30" cy="588.59" r="1.35" fill="#c8102e" />
<line x1="119.40" y1="601.50" x2="119.40" y2="604.20" stroke="#2a2a2a" stroke-width="1" />
<rect x="139.60" y="598.87" width="6.00" height="2.63" fill="#a6dba0" stroke="none" stroke-width="0" />
<line x1="140.40" y1="598.87" x2="144.80" y2="598.87" stroke="#4aae4a" stroke-width="0.9" />
<circle cx="140.90" cy="598.87" r="1.35" fill="#4aae4a" />
<circle cx="142.60" cy="598.17" r="1.35" fill="#4aae4a" />
<circle cx="144.30" cy="598.87" r="1.35" fill="#4aae4a" />
<rect x="147.80" y="595.44" width="6.00" height="6.06" fill="#8a9bc4" stroke="none" stroke-width="0" />
<line x1="148.60" y1="595.44" x2="153.00" y2="595.44" stroke="#1f4f8c" stroke-width="0.9" />
<circle cx="149.10" cy="595.44" r="1.35" fill="#1f4f8c" />
<circle cx="150.80" cy="594.74" r="1.35" fill="#1f4f8c" />
<circle cx="152.50" cy="595.44" r="1.35" fill="#1f4f8c" />
<rect x="156.00" y="596.93" width="6.00" height="4.57" fill="#e3887c" stroke="none" stroke-width="0" />
<line x1="156.80" y1="596.93" x2="161.20" y2="596.93" stroke="#c8102e" stroke-width="0.9" />
<circle cx="157.30" cy="596.93" r="1.35" fill="#c8102e" />
<circle cx="159.00" cy="596.23" r="1.35" fill="#c8102e" />
<circle cx="160.70" cy="596.93" r="1.35" fill="#c8102e" />
<line x1="150.80" y1="601.50" x2="150.80" y2="604.20" stroke="#2a2a2a" stroke-width="1" />
<path d="M49.10,529.70 L49.10,527.30 L66.30,527.30 L66.30,529.70" fill="none" stroke="#333" stroke-width="0.7" />
<text x="0" y="0" font-size="5.0" text-anchor="middle" fill="#2a2a2a" stroke="#2a2a2a" stroke-width="0.12" transform="translate(57.70 524.70) translate(0 3.10) scale(1 1.12)" >****</text>
<path d="M49.10,538.50 L49.10,535.30 L66.30,535.30 L66.30,538.50 M57.70,535.30 L57.70,538.50" fill="none" stroke="#333" stroke-width="0.7" />
<text x="0" y="0" font-size="5.0" text-anchor="middle" fill="#2a2a2a" stroke="#2a2a2a" stroke-width="0.12" transform="translate(53.40 533.00) translate(0 3.10) scale(1 1.12)" >****</text>
<text x="0" y="0" font-size="5.0" text-anchor="middle" fill="#2a2a2a" stroke="#2a2a2a" stroke-width="0.12" transform="translate(62.00 533.00) translate(0 3.10) scale(1 1.12)" >**</text>
<path d="M79.90,529.70 L79.90,527.30 L97.10,527.30 L97.10,529.70" fill="none" stroke="#333" stroke-width="0.7" />
<text x="0" y="0" font-size="5.0" text-anchor="middle" fill="#2a2a2a" stroke="#2a2a2a" stroke-width="0.12" transform="translate(88.50 524.70) translate(0 3.10) scale(1 1.12)" >****</text>
<path d="M79.90,538.50 L79.90,535.30 L97.10,535.30 L97.10,538.50 M88.50,535.30 L88.50,538.50" fill="none" stroke="#333" stroke-width="0.7" />
<text x="0" y="0" font-size="5.0" text-anchor="middle" fill="#2a2a2a" stroke="#2a2a2a" stroke-width="0.12" transform="translate(84.20 533.00) translate(0 3.10) scale(1 1.12)" >****</text>
<text x="0" y="0" font-size="5.0" text-anchor="middle" fill="#2a2a2a" stroke="#2a2a2a" stroke-width="0.12" transform="translate(92.80 533.00) translate(0 3.10) scale(1 1.12)" >****</text>
<path d="M111.00,529.70 L111.00,527.30 L128.20,527.30 L128.20,529.70" fill="none" stroke="#333" stroke-width="0.7" />
<text x="0" y="0" font-size="5.0" text-anchor="middle" fill="#2a2a2a" stroke="#2a2a2a" stroke-width="0.12" transform="translate(119.60 524.70) translate(0 1.80) scale(1 1.12)" >ns</text>
<path d="M111.00,538.50 L111.00,535.30 L128.20,535.30 L128.20,538.50 M119.60,535.30 L119.60,538.50" fill="none" stroke="#333" stroke-width="0.7" />
<text x="0" y="0" font-size="5.0" text-anchor="middle" fill="#2a2a2a" stroke="#2a2a2a" stroke-width="0.12" transform="translate(115.30 533.00) translate(0 3.10) scale(1 1.12)" >****</text>
<text x="0" y="0" font-size="5.0" text-anchor="middle" fill="#2a2a2a" stroke="#2a2a2a" stroke-width="0.12" transform="translate(123.90 533.00) translate(0 3.10) scale(1 1.12)" >****</text>
<path d="M142.40,529.70 L142.40,527.30 L159.60,527.30 L159.60,529.70" fill="none" stroke="#333" stroke-width="0.7" />
<text x="0" y="0" font-size="5.0" text-anchor="middle" fill="#2a2a2a" stroke="#2a2a2a" stroke-width="0.12" transform="translate(151.00 524.70) translate(0 3.10) scale(1 1.12)" >*</text>
<path d="M142.40,538.50 L142.40,535.30 L159.60,535.30 L159.60,538.50 M151.00,535.30 L151.00,538.50" fill="none" stroke="#333" stroke-width="0.7" />
<text x="0" y="0" font-size="5.0" text-anchor="middle" fill="#2a2a2a" stroke="#2a2a2a" stroke-width="0.12" transform="translate(146.70 533.00) translate(0 3.10) scale(1 1.12)" >**</text>
<text x="0" y="0" font-size="5.0" text-anchor="middle" fill="#2a2a2a" stroke="#2a2a2a" stroke-width="0.12" transform="translate(155.30 533.00) translate(0 1.80) scale(1 1.12)" >ns</text>
<circle cx="49.00" cy="501.30" r="1.80" fill="#4aae4a" />
<text x="0" y="0" font-size="6.3" text-anchor="start" fill="#1e1e1e" stroke="#1e1e1e" stroke-width="0.12" transform="translate(53.80 501.70) translate(0 2.27) scale(1 1.12)" >NT-NK</text>
<circle cx="79.20" cy="501.30" r="1.80" fill="#1f4f8c" />
<text x="0" y="0" font-size="6.3" text-anchor="start" fill="#1e1e1e" stroke="#1e1e1e" stroke-width="0.12" transform="translate(83.70 501.70) translate(0 2.27) scale(1 1.12)" >19-IL15</text>
<circle cx="112.50" cy="501.30" r="1.80" fill="#c8102e" />
<text x="0" y="0" font-size="6.3" text-anchor="start" fill="#1e1e1e" stroke="#1e1e1e" stroke-width="0.12" transform="translate(117.40 501.70) translate(0 2.27) scale(1 1.12)" >70-IL15</text>
<text x="57.80" y="611.60" font-size="6.1" text-anchor="end" fill="#1e1e1e" stroke="#1e1e1e" stroke-width="0.12" transform="rotate(-45 57.80 609.50)">Raji</text>
<text x="88.60" y="611.60" font-size="6.1" text-anchor="end" fill="#1e1e1e" stroke="#1e1e1e" stroke-width="0.12" transform="rotate(-45 88.60 609.50)">Raji-CD</text>
<text x="93.70" y="616.70" font-size="6.1" text-anchor="end" fill="#1e1e1e" stroke="#1e1e1e" stroke-width="0.12" transform="rotate(-45 93.70 614.60)">19KO</text>
<text x="119.70" y="611.60" font-size="6.1" text-anchor="end" fill="#1e1e1e" stroke="#1e1e1e" stroke-width="0.12" transform="rotate(-45 119.70 609.50)">Raji-CD</text>
<text x="124.80" y="616.70" font-size="6.1" text-anchor="end" fill="#1e1e1e" stroke="#1e1e1e" stroke-width="0.12" transform="rotate(-45 124.80 614.60)">70KO</text>
<text x="151.10" y="611.60" font-size="6.1" text-anchor="end" fill="#1e1e1e" stroke="#1e1e1e" stroke-width="0.12" transform="rotate(-45 151.10 609.50)">no tumor</text>
<text x="0" y="0" font-size="7.6" text-anchor="middle" fill="#1e1e1e" stroke="#1e1e1e" stroke-width="0.12" textLength="32" lengthAdjust="spacingAndGlyphs" transform="translate(22.20 549.00) rotate(-90) translate(0 2.74) scale(1 1.12)" >CD107a (%)</text>
<line x1="222.30" y1="507.50" x2="222.30" y2="601.90" stroke="#2a2a2a" stroke-width="1.1" />
<line x1="221.80" y1="601.50" x2="342.00" y2="601.50" stroke="#2a2a2a" stroke-width="1.1" />
<line x1="219.60" y1="601.40" x2="222.30" y2="601.40" stroke="#2a2a2a" stroke-width="1" />
<text x="0" y="0" font-size="6.3" text-anchor="end" fill="#1e1e1e" stroke="#1e1e1e" stroke-width="0.12" transform="translate(216.80 601.40) translate(0 2.27) scale(1 1.12)" >0</text>
<line x1="219.60" y1="575.13" x2="222.30" y2="575.13" stroke="#2a2a2a" stroke-width="1" />
<text x="0" y="0" font-size="6.3" text-anchor="end" fill="#1e1e1e" stroke="#1e1e1e" stroke-width="0.12" transform="translate(216.80 575.13) translate(0 2.27) scale(1 1.12)" >50</text>
<line x1="219.60" y1="548.87" x2="222.30" y2="548.87" stroke="#2a2a2a" stroke-width="1" />
<text x="0" y="0" font-size="6.3" text-anchor="end" fill="#1e1e1e" stroke="#1e1e1e" stroke-width="0.12" transform="translate(216.80 548.87) translate(0 2.27) scale(1 1.12)" >100</text>
<line x1="219.60" y1="522.61" x2="222.30" y2="522.61" stroke="#2a2a2a" stroke-width="1" />
<text x="0" y="0" font-size="6.3" text-anchor="end" fill="#1e1e1e" stroke="#1e1e1e" stroke-width="0.12" transform="translate(216.80 522.61) translate(0 2.27) scale(1 1.12)" >150</text>
<rect x="225.70" y="599.30" width="6.00" height="2.20" fill="#a6dba0" stroke="none" stroke-width="0" />
<line x1="226.50" y1="599.30" x2="230.90" y2="599.30" stroke="#4aae4a" stroke-width="0.9" />
<circle cx="227.00" cy="599.30" r="1.35" fill="#4aae4a" />
<circle cx="228.70" cy="598.60" r="1.35" fill="#4aae4a" />
<circle cx="230.40" cy="599.30" r="1.35" fill="#4aae4a" />
<rect x="233.90" y="564.63" width="6.00" height="36.87" fill="#8a9bc4" stroke="none" stroke-width="0" />
<line x1="236.90" y1="560.95" x2="236.90" y2="567.26" stroke="#1f4f8c" stroke-width="0.7" />
<line x1="235.10" y1="560.95" x2="238.70" y2="560.95" stroke="#1f4f8c" stroke-width="0.7" />
<line x1="235.10" y1="567.26" x2="238.70" y2="567.26" stroke="#1f4f8c" stroke-width="0.7" />
<circle cx="235.60" cy="560.95" r="1.50" fill="#1f4f8c" />
<circle cx="238.20" cy="561.48" r="1.50" fill="#1f4f8c" />
<circle cx="236.90" cy="566.73" r="1.50" fill="#1f4f8c" />
<rect x="242.10" y="538.36" width="6.00" height="63.14" fill="#e3887c" stroke="none" stroke-width="0" />
<line x1="245.10" y1="531.54" x2="245.10" y2="543.62" stroke="#c8102e" stroke-width="0.7" />
<line x1="243.30" y1="531.54" x2="246.90" y2="531.54" stroke="#c8102e" stroke-width="0.7" />
<line x1="243.30" y1="543.62" x2="246.90" y2="543.62" stroke="#c8102e" stroke-width="0.7" />
<circle cx="245.10" cy="531.54" r="1.50" fill="#c8102e" />
<circle cx="245.10" cy="537.31" r="1.50" fill="#c8102e" />
<circle cx="245.10" cy="543.62" r="1.50" fill="#c8102e" />
<line x1="236.90" y1="601.50" x2="236.90" y2="604.20" stroke="#2a2a2a" stroke-width="1" />
<rect x="256.90" y="599.30" width="6.00" height="2.20" fill="#a6dba0" stroke="none" stroke-width="0" />
<line x1="257.70" y1="599.30" x2="262.10" y2="599.30" stroke="#4aae4a" stroke-width="0.9" />
<circle cx="258.20" cy="599.30" r="1.35" fill="#4aae4a" />
<circle cx="259.90" cy="598.60" r="1.35" fill="#4aae4a" />
<circle cx="261.60" cy="599.30" r="1.35" fill="#4aae4a" />
<rect x="265.10" y="575.13" width="6.00" height="26.37" fill="#8a9bc4" stroke="none" stroke-width="0" />
<line x1="265.90" y1="575.13" x2="270.30" y2="575.13" stroke="#1f4f8c" stroke-width="0.9" />
<circle cx="266.40" cy="575.13" r="1.35" fill="#1f4f8c" />
<circle cx="268.10" cy="574.43" r="1.35" fill="#1f4f8c" />
<circle cx="269.80" cy="575.13" r="1.35" fill="#1f4f8c" />
<rect x="273.30" y="542.57" width="6.00" height="58.93" fill="#e3887c" stroke="none" stroke-width="0" />
<line x1="276.30" y1="536.79" x2="276.30" y2="548.87" stroke="#c8102e" stroke-width="0.7" />
<line x1="274.50" y1="536.79" x2="278.10" y2="536.79" stroke="#c8102e" stroke-width="0.7" />
<line x1="274.50" y1="548.87" x2="278.10" y2="548.87" stroke="#c8102e" stroke-width="0.7" />
<circle cx="275.00" cy="540.47" r="1.50" fill="#c8102e" />
<circle cx="277.60" cy="540.47" r="1.50" fill="#c8102e" />
<circle cx="276.30" cy="546.77" r="1.50" fill="#c8102e" />
<line x1="268.10" y1="601.50" x2="268.10" y2="604.20" stroke="#2a2a2a" stroke-width="1" />
<rect x="287.70" y="599.30" width="6.00" height="2.20" fill="#a6dba0" stroke="none" stroke-width="0" />
<line x1="288.50" y1="599.30" x2="292.90" y2="599.30" stroke="#4aae4a" stroke-width="0.9" />
<circle cx="289.00" cy="599.30" r="1.35" fill="#4aae4a" />
<circle cx="290.70" cy="598.60" r="1.35" fill="#4aae4a" />
<circle cx="292.40" cy="599.30" r="1.35" fill="#4aae4a" />
<rect x="295.90" y="569.88" width="6.00" height="31.62" fill="#8a9bc4" stroke="none" stroke-width="0" />
<line x1="296.70" y1="569.88" x2="301.10" y2="569.88" stroke="#1f4f8c" stroke-width="0.9" />
<circle cx="297.20" cy="569.88" r="1.35" fill="#1f4f8c" />
<circle cx="298.90" cy="569.18" r="1.35" fill="#1f4f8c" />
<circle cx="300.60" cy="569.88" r="1.35" fill="#1f4f8c" />
<rect x="304.10" y="560.95" width="6.00" height="40.55" fill="#e3887c" stroke="none" stroke-width="0" />
<line x1="304.90" y1="560.95" x2="309.30" y2="560.95" stroke="#c8102e" stroke-width="0.9" />
<circle cx="305.40" cy="560.95" r="1.35" fill="#c8102e" />
<circle cx="307.10" cy="560.25" r="1.35" fill="#c8102e" />
<circle cx="308.80" cy="560.95" r="1.35" fill="#c8102e" />
<line x1="298.90" y1="601.50" x2="298.90" y2="604.20" stroke="#2a2a2a" stroke-width="1" />
<rect x="318.60" y="599.30" width="6.00" height="2.20" fill="#a6dba0" stroke="none" stroke-width="0" />
<line x1="319.40" y1="599.30" x2="323.80" y2="599.30" stroke="#4aae4a" stroke-width="0.9" />
<circle cx="319.90" cy="599.30" r="1.35" fill="#4aae4a" />
<circle cx="321.60" cy="598.60" r="1.35" fill="#4aae4a" />
<circle cx="323.30" cy="599.30" r="1.35" fill="#4aae4a" />
<rect x="326.80" y="576.19" width="6.00" height="25.31" fill="#8a9bc4" stroke="none" stroke-width="0" />
<line x1="327.60" y1="576.19" x2="332.00" y2="576.19" stroke="#1f4f8c" stroke-width="0.9" />
<circle cx="328.10" cy="576.19" r="1.35" fill="#1f4f8c" />
<circle cx="329.80" cy="575.49" r="1.35" fill="#1f4f8c" />
<circle cx="331.50" cy="576.19" r="1.35" fill="#1f4f8c" />
<rect x="335.00" y="569.36" width="6.00" height="32.14" fill="#e3887c" stroke="none" stroke-width="0" />
<line x1="335.80" y1="569.36" x2="340.20" y2="569.36" stroke="#c8102e" stroke-width="0.9" />
<circle cx="336.30" cy="569.36" r="1.35" fill="#c8102e" />
<circle cx="338.00" cy="568.66" r="1.35" fill="#c8102e" />
<circle cx="339.70" cy="569.36" r="1.35" fill="#c8102e" />
<line x1="329.80" y1="601.50" x2="329.80" y2="604.20" stroke="#2a2a2a" stroke-width="1" />
<path d="M225.60,520.60 L225.60,518.20 L244.60,518.20 L244.60,520.60" fill="none" stroke="#333" stroke-width="0.7" />
<text x="0" y="0" font-size="5.0" text-anchor="middle" fill="#2a2a2a" stroke="#2a2a2a" stroke-width="0.12" transform="translate(235.10 515.60) translate(0 3.10) scale(1 1.12)" >**</text>
<path d="M225.60,527.90 L225.60,524.70 L244.60,524.70 L244.60,527.90 M235.30,524.70 L235.30,527.90" fill="none" stroke="#333" stroke-width="0.7" />
<text x="0" y="0" font-size="5.0" text-anchor="middle" fill="#2a2a2a" stroke="#2a2a2a" stroke-width="0.12" transform="translate(230.45 522.40) translate(0 3.10) scale(1 1.12)" >*</text>
<text x="0" y="0" font-size="5.0" text-anchor="middle" fill="#2a2a2a" stroke="#2a2a2a" stroke-width="0.12" transform="translate(239.95 522.40) translate(0 3.10) scale(1 1.12)" >*</text>
<path d="M256.80,520.60 L256.80,518.20 L275.80,518.20 L275.80,520.60" fill="none" stroke="#333" stroke-width="0.7" />
<text x="0" y="0" font-size="5.0" text-anchor="middle" fill="#2a2a2a" stroke="#2a2a2a" stroke-width="0.12" transform="translate(266.30 515.60) translate(0 3.10) scale(1 1.12)" >*</text>
<path d="M256.80,527.90 L256.80,524.70 L275.80,524.70 L275.80,527.90 M266.50,524.70 L266.50,527.90" fill="none" stroke="#333" stroke-width="0.7" />
<text x="0" y="0" font-size="5.0" text-anchor="middle" fill="#2a2a2a" stroke="#2a2a2a" stroke-width="0.12" transform="translate(261.65 522.40) translate(0 3.10) scale(1 1.12)" >****</text>
<text x="0" y="0" font-size="5.0" text-anchor="middle" fill="#2a2a2a" stroke="#2a2a2a" stroke-width="0.12" transform="translate(271.15 522.40) translate(0 3.10) scale(1 1.12)" >*</text>
<path d="M287.60,520.60 L287.60,518.20 L306.60,518.20 L306.60,520.60" fill="none" stroke="#333" stroke-width="0.7" />
<text x="0" y="0" font-size="5.0" text-anchor="middle" fill="#2a2a2a" stroke="#2a2a2a" stroke-width="0.12" transform="translate(297.10 515.60) translate(0 3.10) scale(1 1.12)" >***</text>
<path d="M287.60,527.90 L287.60,524.70 L306.60,524.70 L306.60,527.90 M297.30,524.70 L297.30,527.90" fill="none" stroke="#333" stroke-width="0.7" />
<text x="0" y="0" font-size="5.0" text-anchor="middle" fill="#2a2a2a" stroke="#2a2a2a" stroke-width="0.12" transform="translate(292.45 522.40) translate(0 3.10) scale(1 1.12)" >***</text>
<text x="0" y="0" font-size="5.0" text-anchor="middle" fill="#2a2a2a" stroke="#2a2a2a" stroke-width="0.12" transform="translate(301.95 522.40) translate(0 3.10) scale(1 1.12)" >*</text>
<path d="M318.50,520.60 L318.50,518.20 L337.50,518.20 L337.50,520.60" fill="none" stroke="#333" stroke-width="0.7" />
<text x="0" y="0" font-size="5.0" text-anchor="middle" fill="#2a2a2a" stroke="#2a2a2a" stroke-width="0.12" transform="translate(328.00 515.60) translate(0 3.10) scale(1 1.12)" >****</text>
<path d="M318.50,527.90 L318.50,524.70 L337.50,524.70 L337.50,527.90 M328.20,524.70 L328.20,527.90" fill="none" stroke="#333" stroke-width="0.7" />
<text x="0" y="0" font-size="5.0" text-anchor="middle" fill="#2a2a2a" stroke="#2a2a2a" stroke-width="0.12" transform="translate(323.35 522.40) translate(0 3.10) scale(1 1.12)" >***</text>
<text x="0" y="0" font-size="5.0" text-anchor="middle" fill="#2a2a2a" stroke="#2a2a2a" stroke-width="0.12" transform="translate(332.85 522.40) translate(0 3.10) scale(1 1.12)" >*</text>
<circle cx="228.30" cy="501.30" r="1.80" fill="#4aae4a" />
<text x="0" y="0" font-size="6.3" text-anchor="start" fill="#1e1e1e" stroke="#1e1e1e" stroke-width="0.12" transform="translate(232.60 501.70) translate(0 2.27) scale(1 1.12)" >NT-NK</text>
<circle cx="259.20" cy="501.30" r="1.80" fill="#1f4f8c" />
<text x="0" y="0" font-size="6.3" text-anchor="start" fill="#1e1e1e" stroke="#1e1e1e" stroke-width="0.12" transform="translate(263.60 501.70) translate(0 2.27) scale(1 1.12)" >19-IL15</text>
<circle cx="292.60" cy="501.30" r="1.80" fill="#c8102e" />
<text x="0" y="0" font-size="6.3" text-anchor="start" fill="#1e1e1e" stroke="#1e1e1e" stroke-width="0.12" transform="translate(296.80 501.70) translate(0 2.27) scale(1 1.12)" >70-IL15</text>
<text x="237.20" y="611.60" font-size="6.1" text-anchor="end" fill="#1e1e1e" stroke="#1e1e1e" stroke-width="0.12" transform="rotate(-45 237.20 609.50)">Raji</text>
<text x="268.40" y="611.60" font-size="6.1" text-anchor="end" fill="#1e1e1e" stroke="#1e1e1e" stroke-width="0.12" transform="rotate(-45 268.40 609.50)">Raji-CD</text>
<text x="273.50" y="616.70" font-size="6.1" text-anchor="end" fill="#1e1e1e" stroke="#1e1e1e" stroke-width="0.12" transform="rotate(-45 273.50 614.60)">19KO</text>
<text x="299.20" y="611.60" font-size="6.1" text-anchor="end" fill="#1e1e1e" stroke="#1e1e1e" stroke-width="0.12" transform="rotate(-45 299.20 609.50)">Raji-CD</text>
<text x="304.30" y="616.70" font-size="6.1" text-anchor="end" fill="#1e1e1e" stroke="#1e1e1e" stroke-width="0.12" transform="rotate(-45 304.30 614.60)">70KO</text>
<text x="330.10" y="611.60" font-size="6.1" text-anchor="end" fill="#1e1e1e" stroke="#1e1e1e" stroke-width="0.12" transform="rotate(-45 330.10 609.50)">no tumor</text>
<text x="0" y="0" font-size="8" text-anchor="middle" fill="#1e1e1e" stroke="#1e1e1e" stroke-width="0.12" font-weight="bold" textLength="35.5" lengthAdjust="spacingAndGlyphs" transform="translate(197.40 554.40) rotate(-90) translate(0 2.88) scale(1 1.12)" >IL-15 (pg/ml)</text>
<text x="0" y="0" font-size="8" text-anchor="middle" fill="#222" stroke="#222" stroke-width="0.12" transform="translate(285.40 486.60) translate(0 2.88) scale(1 1.12)" >24h</text>
<line x1="389.80" y1="507.50" x2="389.80" y2="601.90" stroke="#2a2a2a" stroke-width="1.1" />
<line x1="389.30" y1="601.50" x2="513.00" y2="601.50" stroke="#2a2a2a" stroke-width="1.1" />
<line x1="387.10" y1="601.60" x2="389.80" y2="601.60" stroke="#2a2a2a" stroke-width="1" />
<text x="0" y="0" font-size="6.3" text-anchor="end" fill="#1e1e1e" stroke="#1e1e1e" stroke-width="0.12" transform="translate(384.60 601.60) translate(0 2.27) scale(1 1.12)" >0</text>
<line x1="387.10" y1="585.68" x2="389.80" y2="585.68" stroke="#2a2a2a" stroke-width="1" />
<text x="0" y="0" font-size="6.3" text-anchor="end" fill="#1e1e1e" stroke="#1e1e1e" stroke-width="0.12" transform="translate(384.60 585.68) translate(0 2.27) scale(1 1.12)" >50</text>
<line x1="387.10" y1="569.76" x2="389.80" y2="569.76" stroke="#2a2a2a" stroke-width="1" />
<text x="0" y="0" font-size="6.3" text-anchor="end" fill="#1e1e1e" stroke="#1e1e1e" stroke-width="0.12" transform="translate(384.60 569.76) translate(0 2.27) scale(1 1.12)" >100</text>
<line x1="387.10" y1="553.84" x2="389.80" y2="553.84" stroke="#2a2a2a" stroke-width="1" />
<text x="0" y="0" font-size="6.3" text-anchor="end" fill="#1e1e1e" stroke="#1e1e1e" stroke-width="0.12" transform="translate(384.60 553.84) translate(0 2.27) scale(1 1.12)" >150</text>
<line x1="387.10" y1="537.92" x2="389.80" y2="537.92" stroke="#2a2a2a" stroke-width="1" />
<text x="0" y="0" font-size="6.3" text-anchor="end" fill="#1e1e1e" stroke="#1e1e1e" stroke-width="0.12" transform="translate(384.60 537.92) translate(0 2.27) scale(1 1.12)" >200</text>
<line x1="387.10" y1="522.00" x2="389.80" y2="522.00" stroke="#2a2a2a" stroke-width="1" />
<text x="0" y="0" font-size="6.3" text-anchor="end" fill="#1e1e1e" stroke="#1e1e1e" stroke-width="0.12" transform="translate(384.60 522.00) translate(0 2.27) scale(1 1.12)" >250</text>
<rect x="393.40" y="600.64" width="6.00" height="0.86" fill="#a6dba0" stroke="none" stroke-width="0" />
<line x1="394.20" y1="600.64" x2="398.60" y2="600.64" stroke="#4aae4a" stroke-width="0.9" />
<circle cx="394.70" cy="600.64" r="1.35" fill="#4aae4a" />
<circle cx="396.40" cy="599.94" r="1.35" fill="#4aae4a" />
<circle cx="398.10" cy="600.64" r="1.35" fill="#4aae4a" />
<rect x="401.60" y="556.07" width="6.00" height="45.43" fill="#8a9bc4" stroke="none" stroke-width="0" />
<line x1="404.60" y1="553.52" x2="404.60" y2="559.25" stroke="#1f4f8c" stroke-width="0.7" />
<line x1="402.80" y1="553.52" x2="406.40" y2="553.52" stroke="#1f4f8c" stroke-width="0.7" />
<line x1="402.80" y1="559.25" x2="406.40" y2="559.25" stroke="#1f4f8c" stroke-width="0.7" />
<circle cx="402.70" cy="553.20" r="1.50" fill="#1f4f8c" />
<circle cx="406.50" cy="556.71" r="1.50" fill="#1f4f8c" />
<circle cx="402.70" cy="559.57" r="1.50" fill="#1f4f8c" />
<rect x="409.80" y="538.88" width="6.00" height="62.62" fill="#e3887c" stroke="none" stroke-width="0" />
<line x1="412.80" y1="529.00" x2="412.80" y2="541.10" stroke="#c8102e" stroke-width="0.7" />
<line x1="411.00" y1="529.00" x2="414.60" y2="529.00" stroke="#c8102e" stroke-width="0.7" />
<line x1="411.00" y1="541.10" x2="414.60" y2="541.10" stroke="#c8102e" stroke-width="0.7" />
<circle cx="412.80" cy="529.00" r="1.50" fill="#c8102e" />
<circle cx="410.80" cy="538.88" r="1.50" fill="#c8102e" />
<circle cx="414.70" cy="537.28" r="1.50" fill="#c8102e" />
<circle cx="414.00" cy="540.15" r="1.50" fill="#c8102e" />
<line x1="404.60" y1="601.50" x2="404.60" y2="604.20" stroke="#2a2a2a" stroke-width="1" />
<rect x="424.60" y="600.64" width="6.00" height="0.86" fill="#a6dba0" stroke="none" stroke-width="0" />
<line x1="425.40" y1="600.64" x2="429.80" y2="600.64" stroke="#4aae4a" stroke-width="0.9" />
<circle cx="425.90" cy="600.64" r="1.35" fill="#4aae4a" />
<circle cx="427.60" cy="599.94" r="1.35" fill="#4aae4a" />
<circle cx="429.30" cy="600.64" r="1.35" fill="#4aae4a" />
<rect x="432.80" y="572.94" width="6.00" height="28.56" fill="#8a9bc4" stroke="none" stroke-width="0" />
<line x1="433.60" y1="572.94" x2="438.00" y2="572.94" stroke="#1f4f8c" stroke-width="0.9" />
<circle cx="434.10" cy="572.94" r="1.35" fill="#1f4f8c" />
<circle cx="435.80" cy="572.24" r="1.35" fill="#1f4f8c" />
<circle cx="437.50" cy="572.94" r="1.35" fill="#1f4f8c" />
<rect x="441.00" y="536.65" width="6.00" height="64.85" fill="#e3887c" stroke="none" stroke-width="0" />
<line x1="444.00" y1="534.74" x2="444.00" y2="542.70" stroke="#c8102e" stroke-width="0.7" />
<line x1="442.20" y1="534.74" x2="445.80" y2="534.74" stroke="#c8102e" stroke-width="0.7" />
<line x1="442.20" y1="542.70" x2="445.80" y2="542.70" stroke="#c8102e" stroke-width="0.7" />
<circle cx="442.50" cy="535.37" r="1.50" fill="#c8102e" />
<circle cx="445.80" cy="536.65" r="1.50" fill="#c8102e" />
<circle cx="443.80" cy="543.33" r="1.50" fill="#c8102e" />
<line x1="435.80" y1="601.50" x2="435.80" y2="604.20" stroke="#2a2a2a" stroke-width="1" />
<rect x="455.40" y="600.64" width="6.00" height="0.86" fill="#a6dba0" stroke="none" stroke-width="0" />
<line x1="456.20" y1="600.64" x2="460.60" y2="600.64" stroke="#4aae4a" stroke-width="0.9" />
<circle cx="456.70" cy="600.64" r="1.35" fill="#4aae4a" />
<circle cx="458.40" cy="599.94" r="1.35" fill="#4aae4a" />
<circle cx="460.10" cy="600.64" r="1.35" fill="#4aae4a" />
<rect x="463.60" y="564.35" width="6.00" height="37.15" fill="#8a9bc4" stroke="none" stroke-width="0" />
<line x1="464.40" y1="564.35" x2="468.80" y2="564.35" stroke="#1f4f8c" stroke-width="0.9" />
<circle cx="464.90" cy="564.35" r="1.35" fill="#1f4f8c" />
<circle cx="466.60" cy="563.65" r="1.35" fill="#1f4f8c" />
<circle cx="468.30" cy="564.35" r="1.35" fill="#1f4f8c" />
<rect x="471.80" y="552.88" width="6.00" height="48.62" fill="#e3887c" stroke="none" stroke-width="0" />
<line x1="472.60" y1="552.88" x2="477.00" y2="552.88" stroke="#c8102e" stroke-width="0.9" />
<circle cx="473.10" cy="552.88" r="1.35" fill="#c8102e" />
<circle cx="474.80" cy="552.18" r="1.35" fill="#c8102e" />
<circle cx="476.50" cy="552.88" r="1.35" fill="#c8102e" />
<line x1="466.60" y1="601.50" x2="466.60" y2="604.20" stroke="#2a2a2a" stroke-width="1" />
<rect x="486.60" y="600.64" width="6.00" height="0.86" fill="#a6dba0" stroke="none" stroke-width="0" />
<line x1="487.40" y1="600.64" x2="491.80" y2="600.64" stroke="#4aae4a" stroke-width="0.9" />
<circle cx="487.90" cy="600.64" r="1.35" fill="#4aae4a" />
<circle cx="489.60" cy="599.94" r="1.35" fill="#4aae4a" />
<circle cx="491.30" cy="600.64" r="1.35" fill="#4aae4a" />
<rect x="494.80" y="573.58" width="6.00" height="27.92" fill="#8a9bc4" stroke="none" stroke-width="0" />
<line x1="495.60" y1="573.58" x2="500.00" y2="573.58" stroke="#1f4f8c" stroke-width="0.9" />
<circle cx="496.10" cy="573.58" r="1.35" fill="#1f4f8c" />
<circle cx="497.80" cy="572.88" r="1.35" fill="#1f4f8c" />
<circle cx="499.50" cy="573.58" r="1.35" fill="#1f4f8c" />
<rect x="503.00" y="566.26" width="6.00" height="35.24" fill="#e3887c" stroke="none" stroke-width="0" />
<line x1="503.80" y1="566.26" x2="508.20" y2="566.26" stroke="#c8102e" stroke-width="0.9" />
<circle cx="504.30" cy="566.26" r="1.35" fill="#c8102e" />
<circle cx="506.00" cy="565.56" r="1.35" fill="#c8102e" />
<circle cx="507.70" cy="566.26" r="1.35" fill="#c8102e" />
<line x1="497.80" y1="601.50" x2="497.80" y2="604.20" stroke="#2a2a2a" stroke-width="1" />
<path d="M393.30,520.80 L393.30,518.40 L412.30,518.40 L412.30,520.80" fill="none" stroke="#333" stroke-width="0.7" />
<text x="0" y="0" font-size="5.0" text-anchor="middle" fill="#2a2a2a" stroke="#2a2a2a" stroke-width="0.12" transform="translate(402.80 515.80) translate(0 3.10) scale(1 1.12)" >**</text>
<path d="M393.30,527.90 L393.30,524.70 L412.30,524.70 L412.30,527.90 M403.00,524.70 L403.00,527.90" fill="none" stroke="#333" stroke-width="0.7" />
<text x="0" y="0" font-size="5.0" text-anchor="middle" fill="#2a2a2a" stroke="#2a2a2a" stroke-width="0.12" transform="translate(398.15 522.40) translate(0 3.10) scale(1 1.12)" >**</text>
<text x="0" y="0" font-size="5.0" text-anchor="middle" fill="#2a2a2a" stroke="#2a2a2a" stroke-width="0.12" transform="translate(407.65 522.40) translate(0 3.10) scale(1 1.12)" >*</text>
<path d="M424.50,520.80 L424.50,518.40 L443.50,518.40 L443.50,520.80" fill="none" stroke="#333" stroke-width="0.7" />
<text x="0" y="0" font-size="5.0" text-anchor="middle" fill="#2a2a2a" stroke="#2a2a2a" stroke-width="0.12" transform="translate(434.00 515.80) translate(0 3.10) scale(1 1.12)" >**</text>
<path d="M424.50,527.90 L424.50,524.70 L443.50,524.70 L443.50,527.90 M434.20,524.70 L434.20,527.90" fill="none" stroke="#333" stroke-width="0.7" />
<text x="0" y="0" font-size="5.0" text-anchor="middle" fill="#2a2a2a" stroke="#2a2a2a" stroke-width="0.12" transform="translate(429.35 522.40) translate(0 3.10) scale(1 1.12)" >****</text>
<text x="0" y="0" font-size="5.0" text-anchor="middle" fill="#2a2a2a" stroke="#2a2a2a" stroke-width="0.12" transform="translate(438.85 522.40) translate(0 3.10) scale(1 1.12)" >*</text>
<path d="M455.30,520.80 L455.30,518.40 L474.30,518.40 L474.30,520.80" fill="none" stroke="#333" stroke-width="0.7" />
<text x="0" y="0" font-size="5.0" text-anchor="middle" fill="#2a2a2a" stroke="#2a2a2a" stroke-width="0.12" transform="translate(464.80 515.80) translate(0 3.10) scale(1 1.12)" >****</text>
<path d="M455.30,527.90 L455.30,524.70 L474.30,524.70 L474.30,527.90 M465.00,524.70 L465.00,527.90" fill="none" stroke="#333" stroke-width="0.7" />
<text x="0" y="0" font-size="5.0" text-anchor="middle" fill="#2a2a2a" stroke="#2a2a2a" stroke-width="0.12" transform="translate(460.15 522.40) translate(0 3.10) scale(1 1.12)" >****</text>
<text x="0" y="0" font-size="5.0" text-anchor="middle" fill="#2a2a2a" stroke="#2a2a2a" stroke-width="0.12" transform="translate(469.65 522.40) translate(0 3.10) scale(1 1.12)" >***</text>
<path d="M486.50,520.80 L486.50,518.40 L505.50,518.40 L505.50,520.80" fill="none" stroke="#333" stroke-width="0.7" />
<text x="0" y="0" font-size="5.0" text-anchor="middle" fill="#2a2a2a" stroke="#2a2a2a" stroke-width="0.12" transform="translate(496.00 515.80) translate(0 3.10) scale(1 1.12)" >****</text>
<path d="M486.50,527.90 L486.50,524.70 L505.50,524.70 L505.50,527.90 M496.20,524.70 L496.20,527.90" fill="none" stroke="#333" stroke-width="0.7" />
<text x="0" y="0" font-size="5.0" text-anchor="middle" fill="#2a2a2a" stroke="#2a2a2a" stroke-width="0.12" transform="translate(491.35 522.40) translate(0 3.10) scale(1 1.12)" >****</text>
<text x="0" y="0" font-size="5.0" text-anchor="middle" fill="#2a2a2a" stroke="#2a2a2a" stroke-width="0.12" transform="translate(500.85 522.40) translate(0 3.10) scale(1 1.12)" >***</text>
<circle cx="396.20" cy="501.30" r="1.80" fill="#4aae4a" />
<text x="0" y="0" font-size="6.3" text-anchor="start" fill="#1e1e1e" stroke="#1e1e1e" stroke-width="0.12" transform="translate(401.00 501.70) translate(0 2.27) scale(1 1.12)" >NT-NK</text>
<circle cx="426.90" cy="501.30" r="1.80" fill="#1f4f8c" />
<text x="0" y="0" font-size="6.3" text-anchor="start" fill="#1e1e1e" stroke="#1e1e1e" stroke-width="0.12" transform="translate(431.30 501.70) translate(0 2.27) scale(1 1.12)" >19-IL15</text>
<circle cx="457.80" cy="501.30" r="1.80" fill="#c8102e" />
<text x="0" y="0" font-size="6.3" text-anchor="start" fill="#1e1e1e" stroke="#1e1e1e" stroke-width="0.12" transform="translate(462.80 501.70) translate(0 2.27) scale(1 1.12)" >70-IL15</text>
<text x="404.90" y="611.60" font-size="6.1" text-anchor="end" fill="#1e1e1e" stroke="#1e1e1e" stroke-width="0.12" transform="rotate(-45 404.90 609.50)">Raji</text>
<text x="436.10" y="611.60" font-size="6.1" text-anchor="end" fill="#1e1e1e" stroke="#1e1e1e" stroke-width="0.12" transform="rotate(-45 436.10 609.50)">Raji-CD</text>
<text x="441.20" y="616.70" font-size="6.1" text-anchor="end" fill="#1e1e1e" stroke="#1e1e1e" stroke-width="0.12" transform="rotate(-45 441.20 614.60)">19KO</text>
<text x="466.90" y="611.60" font-size="6.1" text-anchor="end" fill="#1e1e1e" stroke="#1e1e1e" stroke-width="0.12" transform="rotate(-45 466.90 609.50)">Raji-CD</text>
<text x="472.00" y="616.70" font-size="6.1" text-anchor="end" fill="#1e1e1e" stroke="#1e1e1e" stroke-width="0.12" transform="rotate(-45 472.00 614.60)">70KO</text>
<text x="498.10" y="611.60" font-size="6.1" text-anchor="end" fill="#1e1e1e" stroke="#1e1e1e" stroke-width="0.12" transform="rotate(-45 498.10 609.50)">no tumor</text>
<text x="0" y="0" font-size="8" text-anchor="middle" fill="#1e1e1e" stroke="#1e1e1e" stroke-width="0.12" font-weight="bold" textLength="36" lengthAdjust="spacingAndGlyphs" transform="translate(363.80 554.60) rotate(-90) translate(0 2.88) scale(1 1.12)" >IL-15 (pg/ml)</text>
<text x="0" y="0" font-size="8" text-anchor="middle" fill="#222" stroke="#222" stroke-width="0.12" transform="translate(452.70 486.40) translate(0 2.88) scale(1 1.12)" >48h</text>
<rect x="0.55" y="0.55" width="518.9" height="633.9" fill="none" stroke="#555" stroke-width="1.1"/>
</svg></body></html>
